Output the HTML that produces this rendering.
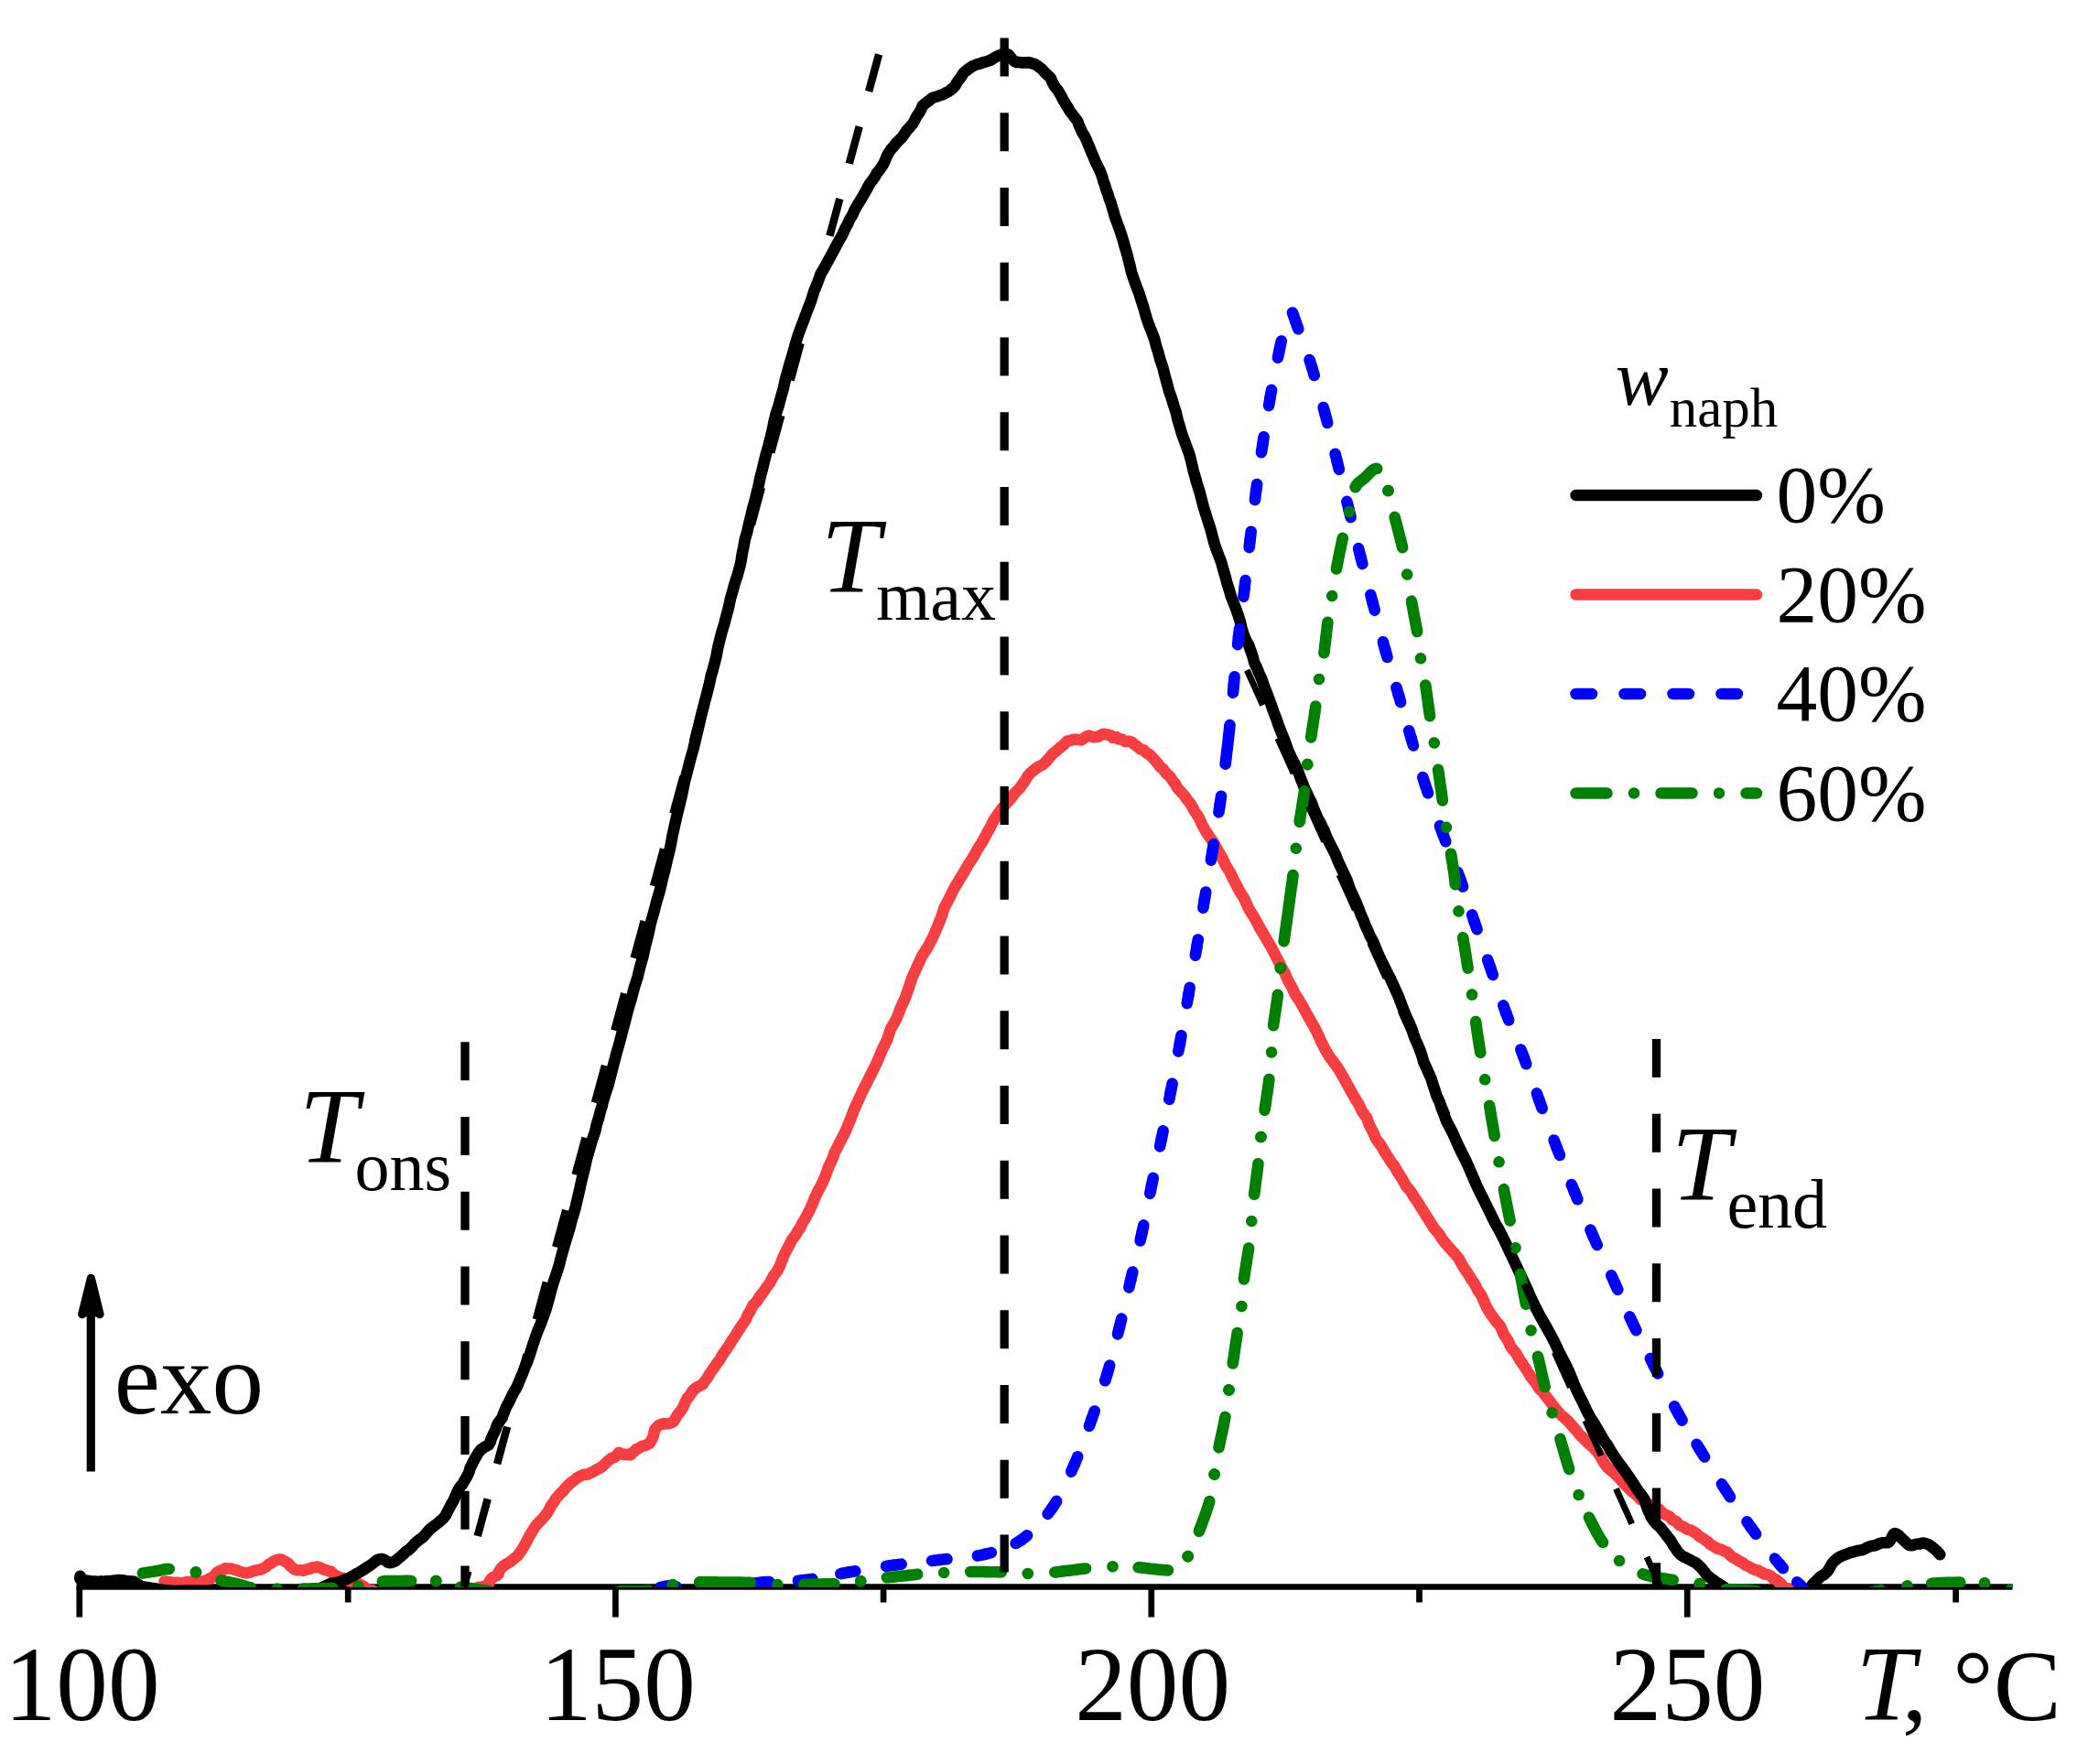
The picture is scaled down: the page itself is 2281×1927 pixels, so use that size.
<!DOCTYPE html>
<html lang="en"><head><meta charset="utf-8"><title>DSC curves</title>
<style>html,body{margin:0;padding:0;background:#fff}svg{display:block}</style></head>
<body>
<svg width="2281" height="1927" viewBox="0 0 2281 1927" role="img" aria-label="DSC curves">
<rect width="2281" height="1927" fill="#fff"/>
<defs><clipPath id="plotclip"><rect x="0" y="0" width="2199" height="1734.1"/></clipPath></defs>
<g stroke="#000" fill="none" stroke-width="6.7">
<path d="M83.5 1733.5 H2198.5"/>
<path d="M86.8 1733.5 V1766.6"/>
<path d="M672.4 1733.5 V1766.6"/>
<path d="M1257.8 1733.5 V1766.6"/>
<path d="M1843.2 1733.5 V1766.6"/>
<path d="M380.2 1733.5 V1750.5"/>
<path d="M965.1 1733.5 V1750.5"/>
<path d="M1550.5 1733.5 V1750.5"/>
<path d="M2136.6 1733.5 V1750.5"/>
</g>
<g clip-path="url(#plotclip)">
<path d="M179.5 1727.5 L182.5 1727.7 L186.0 1728.2 L190.6 1729.1 L194.5 1728.7 L198.8 1730.1 L202.9 1728.4 L206.6 1728.4 L210.3 1727.1 L213.4 1727.9 L216.9 1727.7 L220.7 1727.8 L223.5 1726.8 L226.1 1726.2 L228.0 1724.8 L231.4 1723.5 L233.6 1721.7 L235.7 1719.2 L237.8 1717.0 L240.8 1715.8 L242.4 1715.3 L244.0 1715.0 L245.9 1713.4 L249.4 1713.5 L253.0 1713.5 L256.1 1714.8 L258.8 1715.3 L262.0 1716.7 L265.8 1717.8 L269.5 1718.5 L271.7 1717.9 L274.5 1717.0 L277.5 1716.0 L281.5 1715.1 L284.1 1714.6 L287.3 1713.3 L290.6 1711.6 L293.1 1709.1 L296.6 1707.4 L298.7 1705.6 L302.5 1704.1 L304.3 1703.5 L307.0 1703.6 L309.4 1704.6 L312.6 1706.5 L315.4 1708.1 L316.9 1710.6 L319.1 1712.3 L321.7 1714.4 L324.9 1715.3 L328.0 1715.2 L331.2 1715.9 L334.8 1714.4 L338.7 1713.7 L341.2 1712.3 L344.1 1712.2 L345.9 1711.5 L349.4 1712.3 L352.2 1713.9 L356.4 1715.3 L359.4 1716.2 L362.1 1717.2 L364.2 1719.6 L367.0 1721.2 L371.2 1723.2 L375.2 1724.4 L379.3 1726.4 L382.9 1727.5 L386.4 1728.0 L389.3 1728.7 L392.5 1730.7 L394.9 1731.8 L398.2 1733.5 L399.4 1734.9 L401.5 1736.3 L402.7 1737.0 L406.9 1737.3 L410.5 1739.2 L414.9 1740.0 L419.2 1741.9 L425.0 1742.4 L430.5 1743.6 L436.2 1743.4 L441.5 1745.3 L449.3 1745.2 L457.5 1746.5 L465.6 1745.5 L473.8 1746.4 L482.1 1745.7 L491.6 1746.8 L500.2 1746.0 L505.6 1747.0 L509.2 1745.2 L510.9 1744.8 L513.6 1742.6 L514.8 1742.1 L515.8 1741.6 L516.2 1739.6 L517.6 1739.0 L518.9 1736.1 L520.3 1735.9 L523.1 1733.8 L525.3 1734.4 L526.9 1733.4 L529.0 1733.6 L531.0 1731.9 L533.8 1730.3 L534.9 1727.1 L536.6 1724.8 L539.5 1722.5 L542.5 1721.3 L544.7 1719.6 L544.7 1717.5 L547.0 1713.5 L549.2 1711.4 L552.9 1708.7 L555.2 1707.5 L559.0 1704.8 L562.0 1702.2 L565.2 1699.8 L568.1 1695.8 L571.4 1690.9 L574.4 1685.5 L577.6 1679.4 L580.2 1674.8 L583.7 1669.2 L586.6 1665.1 L590.5 1661.1 L594.0 1657.6 L597.4 1653.1 L600.1 1648.8 L602.2 1644.5 L605.2 1640.5 L607.1 1637.3 L610.1 1634.0 L611.6 1632.1 L615.5 1628.4 L618.0 1625.3 L621.4 1621.7 L623.4 1619.9 L626.7 1617.5 L630.3 1614.5 L634.8 1612.0 L638.4 1610.5 L641.8 1610.7 L645.0 1609.0 L648.3 1607.5 L652.6 1604.9 L655.4 1603.7 L658.3 1601.7 L660.9 1599.0 L664.1 1596.1 L667.8 1592.9 L670.9 1592.2 L673.6 1589.9 L674.9 1588.4 L676.2 1586.7 L677.5 1587.6 L678.5 1587.9 L681.7 1589.0 L684.7 1588.9 L689.2 1589.2 L690.8 1587.1 L693.3 1585.2 L695.0 1583.2 L698.0 1582.0 L701.4 1579.9 L704.5 1579.2 L707.2 1577.9 L709.6 1576.8 L712.1 1572.4 L713.9 1568.5 L714.5 1564.6 L715.4 1561.5 L717.6 1559.1 L720.1 1556.7 L722.8 1555.9 L724.9 1555.0 L727.5 1555.2 L730.6 1555.2 L733.0 1554.3 L735.8 1552.9 L737.9 1549.5 L739.0 1547.2 L740.9 1544.6 L743.2 1542.0 L746.4 1536.9 L748.6 1531.7 L750.6 1527.7 L753.0 1525.2 L754.9 1522.3 L756.9 1519.2 L760.4 1516.0 L764.2 1514.0 L768.0 1511.9 L769.6 1509.3 L772.7 1505.2 L775.1 1500.8 L778.4 1496.2 L781.2 1492.3 L783.2 1489.2 L786.3 1485.5 L788.7 1480.8 L792.5 1475.4 L795.9 1470.5 L799.3 1464.8 L803.1 1459.2 L807.1 1452.7 L810.5 1447.6 L814.7 1441.7 L816.9 1436.3 L820.3 1430.7 L822.5 1426.0 L826.7 1421.7 L829.6 1416.8 L834.3 1410.8 L837.4 1406.3 L840.6 1402.0 L842.4 1398.6 L845.0 1393.7 L848.7 1389.0 L851.8 1383.2 L853.5 1378.8 L855.4 1373.6 L857.6 1368.9 L860.7 1363.1 L863.1 1358.3 L865.2 1354.2 L868.8 1349.5 L871.2 1345.3 L874.3 1341.0 L876.5 1336.0 L880.1 1330.2 L884.0 1322.9 L887.5 1315.2 L890.3 1308.0 L893.7 1301.0 L897.0 1294.9 L900.5 1287.5 L902.7 1281.6 L904.1 1277.6 L905.5 1274.2 L907.2 1270.5 L909.9 1264.8 L911.6 1259.2 L914.9 1253.1 L918.5 1245.8 L923.4 1236.3 L928.3 1224.4 L932.7 1212.9 L938.6 1199.8 L943.6 1189.2 L949.1 1178.5 L954.1 1168.7 L959.2 1157.7 L963.7 1146.8 L969.2 1135.6 L973.1 1123.8 L979.5 1112.5 L983.6 1101.7 L988.9 1090.1 L992.9 1078.7 L996.9 1066.8 L1001.9 1056.0 L1006.9 1044.9 L1013.5 1034.6 L1019.5 1023.1 L1024.0 1012.6 L1028.4 1001.7 L1031.7 991.2 L1037.2 981.0 L1041.9 971.1 L1046.9 962.9 L1052.0 954.4 L1057.1 945.6 L1062.5 937.4 L1067.8 927.9 L1072.9 919.9 L1078.1 910.2 L1082.0 903.3 L1085.8 895.6 L1089.1 890.7 L1094.1 883.9 L1099.3 877.7 L1105.3 871.0 L1109.2 865.5 L1113.6 861.4 L1116.8 856.9 L1120.3 852.1 L1122.5 847.9 L1126.0 844.1 L1129.7 841.1 L1134.0 837.9 L1138.0 835.9 L1140.6 833.9 L1143.8 830.8 L1146.7 827.3 L1149.9 823.6 L1153.9 820.2 L1158.3 816.4 L1162.2 813.4 L1164.4 810.8 L1166.0 809.5 L1168.3 809.1 L1172.0 808.1 L1175.3 807.7 L1178.5 808.1 L1181.0 808.5 L1183.6 806.8 L1186.9 804.5 L1189.6 803.6 L1193.2 804.9 L1196.6 805.1 L1199.7 804.8 L1203.0 802.7 L1206.8 801.7 L1209.6 802.5 L1213.5 803.4 L1215.5 806.0 L1219.6 805.0 L1221.5 807.4 L1225.5 807.5 L1229.3 810.1 L1232.8 809.8 L1236.0 810.4 L1238.6 812.6 L1242.3 815.3 L1245.4 818.3 L1249.2 819.1 L1252.3 822.4 L1255.9 824.3 L1258.4 826.9 L1261.2 830.0 L1264.1 833.2 L1267.4 837.7 L1271.0 840.4 L1274.0 844.9 L1278.3 848.5 L1281.3 853.2 L1284.1 856.6 L1286.4 861.2 L1289.8 864.7 L1294.0 869.3 L1296.8 873.4 L1301.0 878.7 L1304.7 885.7 L1309.7 893.0 L1313.0 900.6 L1316.4 906.6 L1320.8 913.5 L1326.2 921.2 L1330.8 929.7 L1335.3 937.4 L1338.7 944.9 L1343.9 953.3 L1348.3 962.4 L1353.6 972.6 L1359.3 981.8 L1364.1 992.4 L1370.3 1002.6 L1376.5 1014.0 L1382.7 1024.4 L1389.0 1035.2 L1394.1 1045.1 L1399.3 1055.2 L1404.0 1063.8 L1407.2 1071.4 L1411.4 1078.6 L1414.9 1086.3 L1419.4 1093.1 L1423.5 1100.0 L1426.9 1106.4 L1431.0 1113.8 L1435.6 1121.6 L1439.7 1129.8 L1443.9 1139.3 L1448.3 1147.6 L1452.9 1155.1 L1457.9 1161.6 L1462.4 1168.1 L1467.2 1176.2 L1471.3 1183.8 L1475.8 1191.8 L1479.6 1198.7 L1484.4 1206.3 L1488.1 1214.3 L1493.2 1221.3 L1495.6 1228.3 L1499.4 1235.7 L1503.0 1243.7 L1509.0 1252.0 L1514.1 1260.7 L1518.9 1268.2 L1523.7 1274.6 L1527.3 1281.1 L1532.0 1288.2 L1536.1 1295.6 L1541.1 1301.3 L1544.7 1307.5 L1548.9 1313.4 L1553.9 1321.5 L1558.3 1328.6 L1563.1 1336.2 L1566.8 1342.0 L1572.1 1348.2 L1575.8 1354.1 L1580.8 1360.1 L1585.7 1365.7 L1590.1 1370.6 L1593.9 1375.3 L1596.2 1379.8 L1599.3 1385.2 L1603.5 1390.9 L1607.0 1397.0 L1611.2 1402.9 L1614.3 1409.3 L1618.7 1415.8 L1621.5 1422.4 L1624.4 1428.8 L1628.4 1435.3 L1633.3 1442.1 L1639.3 1449.3 L1642.5 1457.2 L1647.2 1464.3 L1650.6 1471.5 L1656.3 1478.5 L1660.1 1485.3 L1664.0 1490.9 L1667.7 1496.5 L1672.4 1504.2 L1677.8 1510.7 L1681.3 1516.8 L1685.2 1520.4 L1689.6 1526.3 L1695.3 1533.7 L1700.5 1540.1 L1704.6 1545.1 L1708.3 1548.1 L1713.1 1552.5 L1716.6 1556.5 L1720.8 1561.3 L1724.9 1566.4 L1730.5 1572.0 L1735.9 1577.3 L1740.5 1581.4 L1745.0 1586.0 L1748.5 1591.4 L1752.4 1598.3 L1756.3 1603.4 L1761.2 1607.5 L1766.4 1611.9 L1770.8 1616.7 L1774.9 1621.7 L1778.1 1624.7 L1782.7 1629.4 L1787.4 1632.8 L1792.2 1637.9 L1797.7 1640.8 L1803.4 1644.4 L1811.5 1648.0 L1816.9 1653.3 L1823.8 1656.7 L1826.7 1660.1 L1831.3 1662.0 L1834.2 1665.8 L1839.6 1668.2 L1843.0 1670.6 L1846.6 1671.4 L1849.6 1673.0 L1853.1 1675.1 L1856.6 1678.6 L1860.5 1680.7 L1863.4 1682.8 L1866.1 1684.7 L1868.0 1686.9 L1872.3 1689.4 L1876.2 1691.7 L1880.7 1692.9 L1883.8 1694.6 L1887.0 1695.7 L1889.8 1698.8 L1893.2 1701.5 L1897.3 1703.5 L1900.3 1705.7 L1903.3 1706.9 L1906.7 1709.6 L1911.0 1711.7 L1914.7 1713.7 L1917.6 1715.0 L1920.6 1715.4 L1922.5 1717.0 L1925.6 1718.2 L1927.5 1719.6 L1931.2 1720.2 L1933.6 1721.1 L1935.4 1722.5 L1936.6 1723.5 L1936.8 1724.3 L1939.1 1724.8 L1940.9 1726.1 L1943.2 1728.3 L1944.0 1729.7 L1945.2 1729.5 L1945.7 1730.1 L1947.0 1732.0 L1948.6 1734.1 L1951.5 1735.3 L1954.1 1735.4 L1956.0 1737.1 L1957.2 1738.7 L1958.1 1740.3 L1958.8 1740.6" fill="none" stroke="#f73e40" stroke-width="12.6" stroke-linecap="round" stroke-linejoin="round"/>
<path d="M87.6 1721.8 L87.9 1722.2 L87.3 1723.4 L87.6 1725.1 L88.6 1725.9 L90.1 1726.5 L91.7 1726.2 L94.1 1726.6 L97.2 1726.9 L100.7 1727.6 L104.1 1727.6 L107.1 1727.9 L110.5 1727.4 L113.0 1727.7 L115.4 1727.4 L117.6 1727.3 L120.1 1727.0 L122.1 1727.1 L124.1 1726.5 L126.7 1726.5 L129.9 1726.0 L132.8 1726.4 L135.6 1726.5 L138.2 1727.2 L140.3 1727.2 L142.1 1727.5 L143.7 1727.5 L145.3 1727.6 L146.9 1728.1 L148.1 1728.9 L149.6 1730.3 L150.5 1730.7 L152.4 1731.8 L153.4 1732.4 L155.7 1733.4 L158.4 1733.7 L162.5 1734.3 L166.9 1735.1 L170.8 1735.6 L176.1 1736.6 L182.3 1737.3 L190.4 1738.0 L200.1 1737.9 L213.9 1737.5 L230.8 1737.7 L249.8 1738.1 L268.1 1738.0 L285.6 1738.2 L299.9 1737.9 L311.1 1738.1 L320.2 1737.6 L327.4 1737.1 L333.8 1736.6 L339.6 1736.4 L345.4 1736.1 L349.4 1735.2 L352.5 1733.9 L354.1 1733.0 L356.9 1731.9 L359.0 1730.7 L362.0 1729.7 L365.1 1729.1 L368.3 1728.6 L371.6 1727.9 L374.3 1726.8 L377.0 1725.6 L379.9 1724.4 L382.7 1723.1 L386.0 1721.4 L388.8 1719.5 L392.7 1717.6 L395.7 1715.6 L398.6 1713.8 L401.2 1711.9 L404.4 1710.1 L407.6 1707.6 L410.0 1705.7 L412.4 1704.0 L414.7 1703.3 L417.4 1703.1 L419.8 1703.9 L422.3 1705.4 L423.6 1706.6 L425.6 1707.1 L427.6 1707.0 L430.2 1706.1 L432.5 1704.9 L434.1 1703.3 L435.5 1702.1 L437.2 1700.9 L439.3 1698.9 L441.7 1696.9 L443.6 1694.7 L446.0 1693.4 L448.2 1691.5 L450.7 1689.1 L453.1 1686.2 L455.9 1683.8 L458.8 1681.5 L462.1 1679.1 L464.9 1676.0 L467.3 1673.2 L469.3 1670.7 L472.1 1668.6 L475.4 1666.0 L478.8 1663.5 L481.7 1660.9 L484.4 1658.5 L486.7 1655.5 L488.6 1651.8 L490.6 1647.9 L493.2 1643.1 L495.7 1638.6 L497.7 1634.1 L499.2 1630.4 L500.9 1627.1 L503.0 1623.8 L505.0 1621.7 L506.5 1619.0 L508.0 1616.5 L509.8 1613.5 L511.3 1610.3 L512.6 1607.6 L513.4 1604.1 L515.0 1601.0 L516.9 1597.1 L518.4 1594.3 L519.9 1591.5 L521.3 1589.2 L522.7 1586.8 L524.0 1585.3 L525.3 1583.7 L527.0 1582.5 L528.6 1581.3 L529.8 1580.4 L531.0 1580.0 L532.4 1579.1 L533.7 1578.6 L534.8 1576.6 L536.0 1574.7 L536.6 1571.6 L538.2 1568.2 L539.9 1564.7 L541.6 1561.3 L542.5 1558.0 L544.1 1554.6 L546.4 1551.6 L548.7 1548.7 L549.6 1545.6 L551.2 1541.6 L552.9 1537.3 L555.8 1531.9 L558.3 1526.7 L561.4 1520.7 L564.9 1514.7 L567.8 1507.5 L570.8 1500.6 L573.3 1493.8 L576.3 1486.9 L579.0 1479.2 L581.5 1471.0 L584.3 1462.7 L587.1 1454.8 L590.2 1447.5 L593.4 1438.9 L596.6 1429.9 L599.3 1420.4 L601.8 1410.5 L604.6 1400.9 L608.0 1391.0 L610.7 1382.4 L613.1 1372.7 L615.9 1362.9 L619.0 1352.4 L622.3 1341.9 L625.0 1331.3 L628.4 1320.2 L630.9 1309.4 L633.5 1298.2 L635.8 1287.7 L638.6 1277.0 L640.8 1266.5 L643.9 1256.0 L646.7 1245.8 L650.0 1236.6 L651.9 1228.0 L654.3 1220.4 L655.8 1214.1 L657.6 1208.7 L658.6 1203.9 L660.2 1198.6 L661.9 1192.9 L664.5 1185.6 L667.0 1175.5 L669.9 1164.3 L673.1 1152.0 L676.6 1139.6 L679.9 1127.0 L683.2 1114.5 L686.2 1102.8 L689.8 1090.7 L692.7 1079.4 L696.4 1067.8 L699.3 1056.1 L702.6 1044.2 L705.2 1032.5 L708.2 1020.9 L710.7 1009.0 L714.2 996.8 L717.3 984.7 L720.9 972.6 L723.5 961.1 L726.6 949.1 L729.3 937.5 L732.3 925.2 L734.5 913.4 L737.1 901.4 L739.7 890.0 L742.6 878.3 L745.3 866.8 L747.7 854.6 L750.9 842.5 L754.0 830.4 L757.4 818.4 L760.3 806.0 L763.4 793.3 L766.1 781.3 L769.0 770.1 L771.5 760.5 L773.6 752.6 L775.0 746.7 L776.0 742.0 L776.8 738.0 L778.5 732.8 L780.3 725.8 L782.4 717.6 L783.9 709.0 L786.0 700.2 L788.5 690.4 L791.4 681.0 L793.8 671.6 L796.1 663.2 L797.9 654.3 L800.3 646.1 L802.5 637.7 L805.3 629.7 L807.5 621.7 L809.5 613.5 L810.7 605.2 L812.4 597.2 L813.9 589.0 L816.2 581.1 L818.1 572.5 L820.2 564.0 L822.3 555.3 L824.5 547.5 L826.5 539.3 L828.6 531.1 L830.4 522.0 L832.6 513.6 L834.7 504.8 L836.8 496.4 L839.3 487.7 L841.5 479.2 L843.7 470.1 L845.5 461.1 L847.8 451.7 L850.7 443.0 L853.1 433.8 L855.7 425.0 L857.7 415.7 L860.2 406.5 L862.8 396.8 L865.9 387.1 L868.6 377.2 L871.5 367.3 L875.0 357.6 L878.6 348.2 L882.1 338.6 L886.0 328.7 L889.4 317.8 L893.2 308.6 L896.5 299.4 L901.0 291.7 L905.3 283.7 L909.4 276.3 L913.0 269.5 L916.5 262.9 L920.4 256.3 L923.0 250.1 L926.0 244.7 L928.2 239.7 L931.0 235.3 L933.0 230.8 L935.1 226.7 L937.8 222.3 L940.6 217.7 L943.0 213.6 L945.1 210.0 L947.0 206.5 L948.8 203.0 L950.9 199.5 L953.0 197.0 L954.9 194.2 L956.5 192.0 L957.6 189.5 L960.0 186.8 L962.2 183.7 L965.1 179.3 L966.9 175.2 L969.1 170.0 L971.3 166.2 L973.6 162.8 L976.1 160.2 L978.0 157.6 L980.5 154.9 L982.9 152.5 L985.2 150.3 L986.8 148.1 L988.5 145.6 L990.5 142.5 L993.0 139.9 L995.2 137.2 L997.5 134.7 L998.8 132.1 L1000.1 129.6 L1001.2 127.4 L1002.6 125.3 L1004.2 123.2 L1005.5 120.8 L1006.8 118.0 L1007.9 115.3 L1010.2 113.6 L1012.9 111.4 L1015.8 109.3 L1018.3 107.1 L1020.8 106.2 L1023.7 105.5 L1026.6 104.3 L1030.0 103.2 L1032.7 101.7 L1035.2 100.7 L1037.5 99.1 L1039.4 97.3 L1041.3 96.1 L1042.5 94.6 L1043.4 93.7 L1044.4 91.8 L1045.7 89.6 L1047.3 87.4 L1048.6 85.9 L1049.9 84.1 L1051.1 82.3 L1052.5 79.9 L1053.5 78.9 L1055.2 77.4 L1056.4 76.7 L1057.8 75.3 L1059.9 74.1 L1062.3 72.3 L1065.5 71.0 L1067.4 70.1 L1069.7 69.7 L1071.8 69.0 L1074.5 68.1 L1077.7 67.2 L1080.7 66.3 L1083.4 65.0 L1086.2 63.1 L1089.2 61.6 L1091.9 60.4 L1094.1 59.4 L1096.9 58.8 L1099.5 58.9 L1101.8 59.9 L1103.5 61.9 L1105.6 64.5 L1108.0 66.8 L1110.3 68.1 L1112.5 67.9 L1114.9 68.4 L1117.6 68.3 L1120.7 68.6 L1123.0 68.1 L1124.9 68.5 L1127.0 69.0 L1128.7 69.7 L1130.6 70.0 L1131.9 71.0 L1133.9 72.3 L1135.5 73.5 L1137.7 75.1 L1139.3 76.8 L1141.7 79.4 L1143.5 81.2 L1145.9 83.4 L1147.8 85.2 L1148.7 87.5 L1149.8 90.1 L1151.5 93.3 L1153.6 96.2 L1155.8 98.8 L1157.5 101.8 L1159.5 105.0 L1161.0 108.4 L1162.6 111.1 L1164.3 114.0 L1166.4 117.1 L1168.5 121.0 L1171.3 124.6 L1174.2 128.6 L1177.2 132.4 L1178.7 136.8 L1180.5 140.6 L1182.1 144.4 L1184.5 148.1 L1186.9 153.0 L1188.7 157.5 L1190.6 161.8 L1192.2 166.2 L1194.4 170.9 L1196.5 176.2 L1198.7 180.6 L1200.9 185.0 L1202.6 189.0 L1204.2 193.2 L1205.4 197.9 L1207.1 202.3 L1208.4 207.2 L1210.2 211.7 L1211.6 216.6 L1213.6 221.5 L1214.8 226.1 L1216.5 231.4 L1217.8 236.4 L1219.7 241.7 L1221.6 246.7 L1223.4 251.7 L1225.4 257.6 L1227.2 263.4 L1228.8 269.8 L1230.9 276.3 L1232.5 282.8 L1234.4 290.1 L1235.9 296.9 L1238.5 304.7 L1241.2 312.2 L1244.4 320.5 L1246.9 328.5 L1249.5 336.5 L1251.5 344.0 L1253.5 350.4 L1255.8 356.7 L1258.3 362.9 L1261.1 370.1 L1262.9 377.3 L1265.3 384.9 L1267.5 393.4 L1270.5 401.9 L1272.7 410.9 L1274.8 418.5 L1277.0 426.9 L1279.9 435.1 L1282.4 443.4 L1284.9 451.0 L1286.5 458.4 L1288.9 466.1 L1291.1 474.1 L1293.9 481.4 L1296.8 489.3 L1299.5 496.9 L1301.7 505.5 L1303.6 513.9 L1305.9 522.0 L1308.2 530.2 L1310.7 538.0 L1312.8 546.2 L1314.8 553.8 L1317.3 561.8 L1319.7 569.5 L1322.5 578.0 L1324.5 585.8 L1326.6 593.8 L1328.9 600.5 L1331.7 607.8 L1334.3 614.7 L1336.3 622.1 L1338.5 629.4 L1340.5 637.2 L1342.9 644.5 L1345.0 652.0 L1347.7 658.8 L1350.3 665.6 L1352.7 672.2 L1354.8 678.9 L1356.5 686.5 L1358.7 693.2 L1361.2 699.7 L1364.1 704.6 L1366.4 711.0 L1368.4 716.7 L1370.2 723.7 L1373.0 729.4 L1375.6 735.9 L1378.4 742.0 L1380.8 749.2 L1383.7 756.4 L1386.5 763.9 L1388.9 770.7 L1391.4 777.8 L1394.2 784.8 L1396.6 791.9 L1399.1 798.5 L1401.7 804.6 L1404.0 810.7 L1406.2 817.0 L1408.6 823.0 L1411.5 829.1 L1414.3 834.3 L1416.6 839.6 L1418.8 844.6 L1420.7 849.8 L1422.7 854.8 L1424.7 860.1 L1427.5 866.0 L1430.1 871.7 L1433.1 877.6 L1435.0 883.1 L1437.6 889.2 L1439.8 894.4 L1442.4 898.8 L1444.4 903.2 L1446.7 907.5 L1448.5 912.8 L1451.1 918.3 L1453.6 923.3 L1456.3 928.3 L1458.6 932.8 L1460.8 938.6 L1463.3 944.2 L1466.1 950.1 L1468.7 955.7 L1471.4 961.2 L1473.3 967.0 L1475.2 972.1 L1477.6 977.4 L1480.2 982.9 L1482.7 988.7 L1485.1 994.8 L1487.0 1000.0 L1489.7 1005.7 L1491.5 1010.9 L1494.2 1016.6 L1496.5 1022.0 L1499.5 1027.5 L1502.1 1033.5 L1504.3 1039.1 L1506.8 1044.8 L1509.0 1049.2 L1511.4 1054.0 L1513.7 1058.9 L1516.2 1064.1 L1518.6 1068.3 L1520.7 1073.0 L1522.8 1077.5 L1525.1 1082.8 L1527.5 1087.9 L1529.8 1094.0 L1532.3 1100.5 L1534.4 1106.0 L1537.0 1112.2 L1539.7 1117.8 L1542.4 1124.4 L1544.2 1130.1 L1546.4 1136.0 L1549.0 1141.7 L1551.6 1148.2 L1553.6 1154.0 L1555.2 1160.0 L1557.9 1165.7 L1560.5 1171.7 L1563.3 1177.8 L1565.1 1183.8 L1567.4 1190.6 L1569.5 1197.2 L1572.6 1203.7 L1574.7 1210.4 L1577.4 1217.1 L1579.9 1224.2 L1583.4 1230.8 L1586.9 1237.5 L1590.1 1244.7 L1593.5 1252.2 L1597.0 1259.8 L1601.0 1267.3 L1604.5 1275.1 L1608.2 1283.7 L1612.1 1292.8 L1616.5 1302.2 L1620.8 1310.7 L1624.8 1318.7 L1628.0 1325.3 L1631.1 1331.6 L1634.0 1337.3 L1637.4 1343.2 L1640.7 1349.7 L1644.4 1357.0 L1648.7 1366.3 L1653.5 1376.4 L1658.5 1387.2 L1663.4 1397.6 L1668.4 1408.5 L1673.1 1419.2 L1677.9 1429.0 L1683.0 1438.8 L1688.2 1447.7 L1693.6 1457.4 L1698.2 1466.2 L1702.7 1475.8 L1707.0 1484.3 L1711.7 1493.2 L1715.5 1501.8 L1719.1 1510.9 L1722.5 1518.9 L1726.2 1526.4 L1729.9 1533.5 L1733.4 1541.3 L1737.3 1548.5 L1741.4 1554.7 L1745.2 1561.2 L1749.0 1567.7 L1752.7 1574.2 L1756.8 1579.7 L1760.1 1585.7 L1763.7 1591.3 L1767.9 1597.4 L1772.0 1602.7 L1776.2 1608.5 L1780.2 1614.4 L1784.5 1620.8 L1788.7 1627.3 L1792.6 1632.3 L1795.8 1636.8 L1797.5 1640.7 L1798.5 1644.6 L1799.7 1647.9 L1800.9 1650.8 L1802.6 1654.0 L1803.7 1657.1 L1806.1 1660.6 L1808.5 1663.8 L1811.9 1667.0 L1814.8 1669.8 L1817.1 1672.8 L1819.6 1675.9 L1822.3 1679.5 L1825.3 1683.2 L1827.8 1687.7 L1830.4 1691.2 L1832.8 1695.2 L1835.4 1697.9 L1838.6 1700.3 L1841.4 1701.4 L1844.1 1703.0 L1846.3 1703.9 L1848.9 1705.6 L1852.0 1706.8 L1854.7 1709.1 L1857.4 1711.6 L1859.8 1714.2 L1861.9 1717.0 L1863.8 1719.4 L1866.2 1722.0 L1868.7 1724.0 L1871.5 1725.8 L1873.8 1727.7 L1876.3 1729.3 L1878.5 1730.8 L1881.0 1732.1 L1883.1 1733.6 L1885.4 1735.6 L1887.6 1736.7 L1889.6 1738.1 L1891.1 1739.0 L1892.0 1740.1" fill="none" stroke="#000" stroke-width="12.6" stroke-linecap="round" stroke-linejoin="round"/>
<path d="M1970.2 1744.1 L1970.6 1743.1 L1971.6 1741.8 L1972.3 1740.2 L1973.9 1738.7 L1975.4 1737.1 L1976.8 1735.7 L1977.9 1734.0 L1979.3 1732.1 L1981.0 1729.9 L1983.0 1728.0 L1984.9 1726.1 L1986.6 1724.5 L1988.3 1722.8 L1989.6 1721.9 L1991.0 1720.9 L1992.5 1720.2 L1994.3 1718.6 L1996.1 1716.8 L1997.7 1714.8 L1998.9 1712.6 L2000.3 1710.1 L2001.7 1707.5 L2003.8 1705.3 L2005.8 1703.6 L2007.8 1701.9 L2009.8 1700.8 L2012.1 1699.7 L2014.7 1698.7 L2017.4 1697.7 L2020.3 1696.6 L2022.7 1695.8 L2024.7 1695.3 L2026.7 1694.6 L2029.4 1694.0 L2031.8 1693.6 L2034.4 1693.3 L2036.6 1692.3 L2039.4 1690.7 L2042.3 1689.4 L2045.5 1688.7 L2048.3 1688.2 L2051.0 1687.3 L2052.9 1686.2 L2055.2 1685.5 L2057.3 1685.3 L2059.7 1685.3 L2061.7 1685.3 L2063.4 1684.6 L2064.6 1683.1 L2065.9 1681.1 L2066.9 1679.0 L2067.9 1677.1 L2068.6 1675.7 L2070.0 1675.1 L2072.0 1675.8 L2074.2 1677.4 L2076.4 1679.5 L2078.5 1681.6 L2080.9 1683.6 L2082.7 1685.7 L2084.4 1686.9 L2085.3 1687.8 L2086.6 1687.8 L2087.3 1688.2 L2088.4 1688.3 L2089.7 1688.1 L2091.3 1687.3 L2093.2 1686.9 L2095.0 1686.6 L2097.4 1686.5 L2099.6 1685.8 L2101.5 1685.6 L2103.1 1686.0 L2104.9 1686.5 L2106.7 1687.2 L2108.2 1688.1 L2109.6 1689.2 L2111.0 1690.3 L2112.5 1691.5 L2114.3 1693.0 L2116.2 1694.6 L2117.3 1696.1 L2118.7 1697.4 L2119.3 1698.2" fill="none" stroke="#000" stroke-width="12.6" stroke-linecap="round" stroke-linejoin="round"/>
<g fill="none" stroke="#0000ff" stroke-width="12.6" stroke-linecap="round" stroke-linejoin="round">
<path d="M690.0 1740.0 L691.7 1739.8 L694.0 1739.5 L696.8 1739.2 L699.9 1738.8 L703.1 1738.4 L706.3 1737.9 L709.3 1737.5 L712.0 1737.0 L714.4 1736.5 L716.6 1735.8 L718.6 1735.1 L720.7 1734.3 L722.8 1733.7 L725.0 1733.1 L727.3 1732.7 L730.0 1732.5" stroke-dasharray="17.5 35.5" stroke-dashoffset="20.91"/>
<path d="M730.0 1732.5 L733.0 1732.6 L736.2 1732.9 L739.6 1733.3 L743.1 1733.9 L746.7 1734.5 L750.2 1735.1 L753.7 1735.6 L757.0 1736.0 L760.1 1736.3 L763.2 1736.5 L766.2 1736.8 L769.1 1737.0 L772.1 1737.1 L775.0 1737.2 L778.0 1737.1 L781.0 1737.0 L784.1 1736.7 L787.1 1736.4 L790.2 1735.9 L793.3 1735.3 L796.5 1734.8 L799.6 1734.2 L802.8 1733.6 L806.0 1733.0 L809.1 1732.4 L812.1 1731.9 L815.0 1731.3 L818.0 1730.7 L821.1 1730.1 L824.6 1729.5 L828.4 1729.0 L832.7 1728.5" stroke-dasharray="8.56 34.74 17.12 34.74 8.56 3000" stroke-dashoffset="0.00"/>
<path d="M832.7 1728.5 L837.6 1728.1 L843.0 1727.9 L848.8 1727.7 L854.9 1727.5 L861.2 1727.3 L867.4 1727.0 L873.6 1726.6 L879.6 1726.0" stroke-dasharray="7.76 31.47 7.76 3000" stroke-dashoffset="0.00"/>
<path d="M879.6 1726.0 L885.4 1725.2 L891.1 1724.3 L896.9 1723.3 L902.6 1722.2 L908.3 1721.0 L914.1 1719.9 L920.0 1718.8 L926.0 1717.7" stroke-dasharray="7.78 31.58 7.78 3000" stroke-dashoffset="0.00"/>
<path d="M926.0 1717.7 L932.1 1716.7 L938.3 1715.6 L944.6 1714.6 L951.0 1713.5 L957.4 1712.5 L963.7 1711.5 L970.1 1710.6 L976.4 1709.7" stroke-dasharray="8.43 34.18 8.43 3000" stroke-dashoffset="0.00"/>
<path d="M976.4 1709.7 L982.7 1708.9 L988.9 1708.1 L995.2 1707.4 L1001.4 1706.7 L1007.6 1706.1 L1013.9 1705.4 L1020.1 1704.7 L1026.3 1704.0" stroke-dasharray="8.29 33.64 8.29 3000" stroke-dashoffset="0.00"/>
<path d="M1026.3 1704.0 L1032.6 1703.3 L1039.0 1702.7 L1045.4 1702.2 L1051.8 1701.6 L1058.1 1700.9 L1064.3 1700.1 L1070.3 1699.1 L1076.0 1697.9" stroke-dasharray="8.27 33.57 8.27 3000" stroke-dashoffset="0.00"/>
<path d="M1076.0 1697.9 L1081.5 1696.5 L1086.8 1695.1 L1091.9 1693.6 L1096.8 1691.9 L1101.7 1690.0 L1106.4 1687.8 L1111.1 1685.2 L1115.7 1682.3" stroke-dasharray="7.09 28.74 7.09 3000" stroke-dashoffset="0.00"/>
<path d="M1115.7 1682.3 L1120.3 1678.9 L1124.8 1675.2 L1129.2 1671.2 L1133.5 1666.9 L1137.7 1662.3 L1141.8 1657.5 L1145.7 1652.5 L1149.4 1647.4" stroke-dasharray="8.05 32.66 8.05 3000" stroke-dashoffset="0.00"/>
<path d="M1149.4 1647.4 L1152.9 1642.0 L1156.3 1636.4 L1159.5 1630.5 L1162.5 1624.4 L1165.5 1618.2 L1168.3 1611.9 L1171.1 1605.7 L1173.8 1599.5" stroke-dasharray="8.89 36.06 8.89 3000" stroke-dashoffset="0.00"/>
<path d="M1173.8 1599.5 L1176.4 1593.4 L1179.0 1587.2 L1181.4 1580.9 L1183.8 1574.7 L1186.1 1568.4 L1188.3 1562.1 L1190.6 1555.8 L1192.8 1549.6" stroke-dasharray="8.82 35.77 8.82 3000" stroke-dashoffset="0.00"/>
<path d="M1192.8 1549.6 L1195.0 1543.4 L1197.3 1537.2 L1199.5 1531.0 L1201.7 1524.9 L1203.8 1518.7 L1205.9 1512.5 L1207.9 1506.3 L1209.8 1500.0" stroke-dasharray="8.66 35.12 8.66 3000" stroke-dashoffset="0.00"/>
<path d="M1209.8 1500.0 L1211.6 1493.7 L1213.4 1487.4 L1215.1 1481.0 L1216.7 1474.6 L1218.4 1468.2 L1219.9 1461.8 L1221.5 1455.4 L1223.1 1449.0" stroke-dasharray="8.7 35.31 8.7 3000" stroke-dashoffset="0.00"/>
<path d="M1223.1 1449.0 L1224.7 1442.6 L1226.2 1436.2 L1227.8 1429.8 L1229.3 1423.5 L1230.8 1417.1 L1232.3 1410.7 L1233.8 1404.3 L1235.3 1397.9" stroke-dasharray="8.67 35.19 8.67 3000" stroke-dashoffset="0.00"/>
<path d="M1235.3 1397.9 L1236.8 1391.5 L1238.4 1385.2 L1239.9 1378.8 L1241.5 1372.4 L1243.0 1366.1 L1244.6 1359.7 L1246.1 1353.3 L1247.5 1346.9" stroke-dasharray="8.66 35.12 8.66 3000" stroke-dashoffset="0.00"/>
<path d="M1247.5 1346.9 L1248.9 1340.5 L1250.2 1334.0 L1251.5 1327.6 L1252.8 1321.1 L1254.1 1314.7 L1255.4 1308.2 L1256.7 1301.7 L1258.0 1295.3" stroke-dasharray="8.69 35.27 8.69 3000" stroke-dashoffset="0.00"/>
<path d="M1258.0 1295.3 L1259.3 1288.9 L1260.7 1282.4 L1262.1 1276.0 L1263.5 1269.5 L1264.9 1263.1 L1266.2 1256.7 L1267.6 1250.2 L1268.9 1243.8" stroke-dasharray="8.69 35.26 8.69 3000" stroke-dashoffset="0.00"/>
<path d="M1268.9 1243.8 L1270.2 1237.4 L1271.5 1231.0 L1272.7 1224.6 L1274.0 1218.2 L1275.2 1211.8 L1276.4 1205.3 L1277.7 1198.9 L1278.9 1192.4" stroke-dasharray="8.65 35.07 8.65 3000" stroke-dashoffset="0.00"/>
<path d="M1278.9 1192.4 L1280.2 1185.9 L1281.4 1179.4 L1282.7 1172.8 L1283.9 1166.2 L1285.2 1159.6 L1286.4 1153.0 L1287.7 1146.5 L1288.9 1139.9" stroke-dasharray="8.82 35.8 8.82 3000" stroke-dashoffset="0.00"/>
<path d="M1288.9 1139.9 L1290.1 1133.3 L1291.3 1126.8 L1292.4 1120.2 L1293.6 1113.7 L1294.8 1107.2 L1295.9 1100.6 L1297.1 1094.1 L1298.2 1087.5" stroke-dasharray="8.79 35.65 8.79 3000" stroke-dashoffset="0.00"/>
<path d="M1298.2 1087.5 L1299.4 1080.9 L1300.5 1074.4 L1301.7 1067.8 L1302.8 1061.2 L1303.9 1054.6 L1305.1 1048.1 L1306.2 1041.5 L1307.3 1035.0" stroke-dasharray="8.8 35.69 8.8 3000" stroke-dashoffset="0.00"/>
<path d="M1307.3 1035.0 L1308.4 1028.5 L1309.5 1022.0 L1310.5 1015.5 L1311.6 1009.0 L1312.6 1002.6 L1313.7 996.1 L1314.7 989.6 L1315.8 983.1" stroke-dasharray="8.68 35.23 8.68 3000" stroke-dashoffset="0.00"/>
<path d="M1315.8 983.1 L1316.9 976.6 L1317.9 970.1 L1319.0 963.6 L1320.0 957.1 L1321.1 950.6 L1322.2 944.1 L1323.2 937.5 L1324.3 931.0" stroke-dasharray="8.72 35.36 8.72 3000" stroke-dashoffset="0.00"/>
<path d="M1324.3 931.0 L1325.4 924.5 L1326.4 918.2 L1327.5 911.9 L1328.5 905.6 L1329.6 899.2 L1330.7 892.6 L1331.7 885.7 L1332.8 878.5" stroke-dasharray="8.78 35.62 8.78 3000" stroke-dashoffset="0.00"/>
<path d="M1332.8 878.5 L1333.9 870.9 L1335.0 862.9 L1336.1 854.7 L1337.2 846.2 L1338.3 837.7 L1339.3 829.2 L1340.3 820.8 L1341.3 812.5 L1342.2 804.3 L1343.1 796.0 L1343.9 787.7 L1344.8 779.4 L1345.5 771.2 L1346.3 763.2 L1347.1 755.5 L1347.8 748.0" stroke-dasharray="8.75 35.5 42.87 35.5 8.75 3000" stroke-dashoffset="0.00"/>
<path d="M1347.8 748.0 L1348.5 740.9 L1349.2 734.0 L1349.8 727.4 L1350.4 721.0 L1351.0 714.7 L1351.6 708.3 L1352.3 702.0 L1353.0 695.5" stroke-dasharray="8.71 35.34 8.71 3000" stroke-dashoffset="0.00"/>
<path d="M1353.0 695.5 L1353.8 688.9 L1354.5 682.4 L1355.4 675.9 L1356.2 669.3 L1357.0 662.8 L1357.9 656.2 L1358.7 649.6 L1359.5 643.0" stroke-dasharray="8.73 35.43 8.73 3000" stroke-dashoffset="0.00"/>
<path d="M1359.5 643.0 L1360.3 636.3 L1361.1 629.6 L1361.8 622.8 L1362.6 616.0 L1363.4 609.3 L1364.2 602.5 L1364.9 595.8 L1365.7 589.2" stroke-dasharray="8.94 36.27 8.94 3000" stroke-dashoffset="0.00"/>
<path d="M1365.7 589.2 L1366.5 582.6 L1367.2 576.2 L1368.0 569.7 L1368.8 563.3 L1369.6 556.9 L1370.4 550.5 L1371.2 544.0 L1372.0 537.6" stroke-dasharray="8.58 34.82 8.58 3000" stroke-dashoffset="0.00"/>
<path d="M1372.0 537.6 L1372.9 531.1 L1373.7 524.6 L1374.6 518.1 L1375.5 511.6 L1376.5 505.1 L1377.4 498.6 L1378.3 492.1 L1379.3 485.7" stroke-dasharray="8.65 35.11 8.65 3000" stroke-dashoffset="0.00"/>
<path d="M1379.3 485.7 L1380.3 479.3 L1381.2 472.9 L1382.2 466.6 L1383.2 460.2 L1384.2 453.9 L1385.3 447.5 L1386.4 441.1 L1387.5 434.7" stroke-dasharray="8.53 34.6 8.53 3000" stroke-dashoffset="0.00"/>
<path d="M1387.5 434.7 L1388.7 428.0 L1390.0 421.0 L1391.4 413.9 L1392.8 406.8 L1394.1 400.0 L1395.4 393.4 L1396.6 387.5 L1397.7 382.2" stroke-dasharray="8.83 35.82 8.83 3000" stroke-dashoffset="0.00"/>
<path d="M1397.7 382.2 L1398.6 377.7 L1399.5 373.8 L1400.3 370.4 L1401.0 367.4 L1401.6 364.7 L1402.2 362.1 L1402.9 359.6 L1403.5 357.0 L1404.1 354.3 L1404.7 351.6 L1405.3 349.0 L1405.9 346.6 L1406.4 344.3 L1407.0 342.4 L1407.5 340.7 L1408.0 339.5 L1408.5 338.7 L1408.9 338.3 L1409.4 338.3 L1409.8 338.5 L1410.2 339.0 L1410.6 339.6 L1411.1 340.3 L1411.5 341.0 L1411.9 341.7 L1412.3 342.6 L1412.7 343.5 L1413.1 344.6 L1413.5 345.9 L1414.0 347.3 L1414.6 349.0 L1415.3 351.0" stroke-dasharray="9.92 40.26 9.92 3000" stroke-dashoffset="0.00"/>
<path d="M1415.3 351.0 L1416.1 353.3 L1417.1 356.0 L1418.2 358.9 L1419.3 362.0 L1420.5 365.2 L1421.7 368.5 L1422.9 371.8 L1424.0 375.0 L1425.1 378.0 L1426.1 380.8 L1427.2 383.6 L1428.2 386.5 L1429.3 389.6 L1430.5 393.0 L1431.8 396.9 L1433.2 401.5" stroke-dasharray="8.85 35.89 8.85 3000" stroke-dashoffset="0.00"/>
<path d="M1433.2 401.5 L1434.8 406.8 L1436.6 412.8 L1438.4 419.3 L1440.4 426.1 L1442.4 433.1 L1444.3 440.2 L1446.2 447.1 L1448.0 453.7" stroke-dasharray="8.96 36.34 8.96 3000" stroke-dashoffset="0.00"/>
<path d="M1448.0 453.7 L1449.7 460.1 L1451.3 466.4 L1452.9 472.6 L1454.5 478.9 L1456.0 485.1 L1457.6 491.4 L1459.1 497.7 L1460.7 504.1" stroke-dasharray="8.58 34.81 8.58 3000" stroke-dashoffset="0.00"/>
<path d="M1460.7 504.1 L1462.3 510.6 L1463.9 517.1 L1465.5 523.7 L1467.1 530.3 L1468.7 536.9 L1470.3 543.5 L1471.9 550.1 L1473.5 556.6" stroke-dasharray="8.92 36.2 8.92 3000" stroke-dashoffset="0.00"/>
<path d="M1473.5 556.6 L1475.1 563.1 L1476.7 569.5 L1478.2 575.9 L1479.8 582.2 L1481.4 588.6 L1483.0 594.9 L1484.6 601.3 L1486.2 607.6" stroke-dasharray="8.68 35.2 8.68 3000" stroke-dashoffset="0.00"/>
<path d="M1486.2 607.6 L1487.8 613.9 L1489.5 620.2 L1491.1 626.5 L1492.8 632.8 L1494.5 639.1 L1496.1 645.4 L1497.8 651.7 L1499.5 658.1" stroke-dasharray="8.62 34.98 8.62 3000" stroke-dashoffset="0.00"/>
<path d="M1499.5 658.1 L1501.2 664.5 L1502.9 671.0 L1504.6 677.5 L1506.3 684.0 L1508.0 690.4 L1509.7 696.9 L1511.4 703.3 L1513.2 709.7" stroke-dasharray="8.81 35.76 8.81 3000" stroke-dashoffset="0.00"/>
<path d="M1513.2 709.7 L1515.0 716.0 L1516.8 722.3 L1518.7 728.6 L1520.6 734.8 L1522.4 741.0 L1524.3 747.2 L1526.1 753.3 L1527.9 759.3" stroke-dasharray="8.54 34.65 8.54 3000" stroke-dashoffset="0.00"/>
<path d="M1527.9 759.3 L1529.6 765.2 L1531.3 771.1 L1533.0 776.8 L1534.7 782.5 L1536.3 788.3 L1538.0 794.1 L1539.7 800.0 L1541.5 806.0" stroke-dasharray="8.03 32.58 8.03 3000" stroke-dashoffset="0.00"/>
<path d="M1541.5 806.0 L1543.3 812.2 L1545.2 818.5 L1547.0 824.9 L1548.9 831.3 L1550.8 837.8 L1552.8 844.4 L1554.9 850.9 L1557.0 857.5" stroke-dasharray="8.88 36.03 8.88 3000" stroke-dashoffset="0.00"/>
<path d="M1557.0 857.5 L1559.2 864.1 L1561.5 870.8 L1563.9 877.6 L1566.4 884.3 L1568.8 891.1 L1571.3 897.8 L1573.8 904.5 L1576.2 911.0" stroke-dasharray="9.38 38.07 9.38 3000" stroke-dashoffset="0.00"/>
<path d="M1576.2 911.0 L1578.6 917.4 L1581.1 923.8 L1583.6 930.2 L1586.0 936.5 L1588.5 942.7 L1590.9 948.9 L1593.2 955.0 L1595.4 961.0" stroke-dasharray="8.84 35.88 8.84 3000" stroke-dashoffset="0.00"/>
<path d="M1595.4 961.0 L1597.5 966.9 L1599.5 972.7 L1601.3 978.4 L1603.2 984.0 L1605.0 989.7 L1606.8 995.3 L1608.7 1001.1 L1610.7 1007.0" stroke-dasharray="8 32.47 8 3000" stroke-dashoffset="0.00"/>
<path d="M1610.7 1007.0 L1612.8 1013.0 L1614.9 1019.2 L1617.0 1025.4 L1619.2 1031.6 L1621.4 1037.9 L1623.6 1044.2 L1625.8 1050.5 L1628.0 1056.7" stroke-dasharray="8.69 35.25 8.69 3000" stroke-dashoffset="0.00"/>
<path d="M1628.0 1056.7 L1630.1 1062.9 L1632.3 1069.2 L1634.4 1075.5 L1636.5 1081.7 L1638.6 1088.0 L1640.8 1094.2 L1643.0 1100.4 L1645.2 1106.5" stroke-dasharray="8.7 35.29 8.7 3000" stroke-dashoffset="0.00"/>
<path d="M1645.2 1106.5 L1647.5 1112.6 L1649.9 1118.6 L1652.3 1124.6 L1654.8 1130.6 L1657.3 1136.5 L1659.7 1142.5 L1662.1 1148.4 L1664.4 1154.4" stroke-dasharray="8.52 34.57 8.52 3000" stroke-dashoffset="0.00"/>
<path d="M1664.4 1154.4 L1666.6 1160.4 L1668.8 1166.3 L1670.9 1172.2 L1673.0 1178.1 L1675.1 1184.1 L1677.2 1190.1 L1679.4 1196.1 L1681.6 1202.3" stroke-dasharray="8.4 34.09 8.4 3000" stroke-dashoffset="0.00"/>
<path d="M1681.6 1202.3 L1683.9 1208.6 L1686.3 1215.0 L1688.7 1221.6 L1691.1 1228.1 L1693.5 1234.7 L1696.0 1241.2 L1698.4 1247.7 L1700.8 1254.0" stroke-dasharray="9.11 36.94 9.11 3000" stroke-dashoffset="0.00"/>
<path d="M1700.8 1254.0 L1703.2 1260.2 L1705.6 1266.2 L1707.9 1272.2 L1710.3 1278.1 L1712.7 1284.0 L1715.1 1290.0 L1717.5 1295.9 L1720.0 1302.0" stroke-dasharray="8.54 34.63 8.54 3000" stroke-dashoffset="0.00"/>
<path d="M1720.0 1302.0 L1722.5 1308.1 L1725.1 1314.3 L1727.7 1320.5 L1730.3 1326.7 L1732.9 1333.0 L1735.6 1339.2 L1738.3 1345.5 L1741.0 1351.7" stroke-dasharray="8.91 36.14 8.91 3000" stroke-dashoffset="0.00"/>
<path d="M1741.0 1351.7 L1743.8 1358.0 L1746.7 1364.3 L1749.6 1370.6 L1752.6 1377.0 L1755.5 1383.2 L1758.4 1389.4 L1761.3 1395.5 L1764.0 1401.5" stroke-dasharray="9.06 36.74 9.06 3000" stroke-dashoffset="0.00"/>
<path d="M1764.0 1401.5 L1766.6 1407.3 L1769.1 1412.9 L1771.5 1418.4 L1773.8 1423.8 L1776.2 1429.2 L1778.6 1434.6 L1781.1 1440.0 L1783.7 1445.6" stroke-dasharray="7.97 32.35 7.97 3000" stroke-dashoffset="0.00"/>
<path d="M1783.7 1445.6 L1786.4 1451.2 L1789.1 1456.8 L1791.9 1462.4 L1794.7 1468.0 L1797.6 1473.7 L1800.6 1479.5 L1803.6 1485.5 L1806.7 1491.6" stroke-dasharray="8.49 34.45 8.49 3000" stroke-dashoffset="0.00"/>
<path d="M1806.7 1491.6 L1809.9 1498.0 L1813.3 1504.8 L1816.8 1511.7 L1820.3 1518.7 L1823.8 1525.7 L1827.3 1532.5 L1830.6 1539.0 L1833.9 1545.0" stroke-dasharray="9.89 40.14 9.89 3000" stroke-dashoffset="0.00"/>
<path d="M1833.9 1545.0 L1837.0 1550.5 L1839.9 1555.7 L1842.8 1560.5 L1845.6 1565.2 L1848.5 1569.8 L1851.4 1574.4 L1854.4 1579.2 L1857.5 1584.2" stroke-dasharray="7.56 30.65 7.56 3000" stroke-dashoffset="0.00"/>
<path d="M1857.5 1584.2 L1860.8 1589.5 L1864.2 1595.0 L1867.7 1600.6 L1871.3 1606.2 L1874.9 1611.9 L1878.5 1617.5 L1882.1 1623.0 L1885.6 1628.4" stroke-dasharray="8.65 35.08 8.65 3000" stroke-dashoffset="0.00"/>
<path d="M1885.6 1628.4 L1889.0 1633.7 L1892.5 1638.8 L1895.8 1643.9 L1899.2 1649.0 L1902.6 1654.0 L1906.1 1659.0 L1909.6 1664.0 L1913.2 1669.0" stroke-dasharray="8.11 32.89 8.11 3000" stroke-dashoffset="0.00"/>
<path d="M1913.2 1669.0 L1917.0 1674.2 L1920.9 1679.5 L1925.0 1684.8 L1929.1 1690.2 L1933.1 1695.3 L1937.0 1700.3 L1940.8 1704.9 L1944.3 1709.1" stroke-dasharray="8.38 34 8.38 3000" stroke-dashoffset="0.00"/>
<path d="M1944.3 1709.1 L1947.6 1712.9 L1950.9 1716.3 L1954.0 1719.5 L1957.0 1722.4 L1959.8 1725.0 L1962.4 1727.5 L1964.8 1729.8 L1967.0 1732.0" stroke-dasharray="5.33 21.61 5.33 3000" stroke-dashoffset="0.00"/>
<path d="M1967.0 1732.0 L1968.9 1734.0 L1970.6 1735.8 L1972.1 1737.5 L1973.4 1738.9 L1974.5 1740.2 L1975.5 1741.3 L1976.3 1742.2 L1977.0 1743.0" stroke-dasharray="17.5 35.5" stroke-dashoffset="8.75"/>
</g>
<g fill="none" stroke="#008000" stroke-width="12.6" stroke-linecap="round" stroke-linejoin="round">
<path d="M155.9 1718.6 L157.2 1718.4 L158.8 1718.1 L160.9 1717.8 L163.1 1717.4 L165.4 1717.0 L167.7 1716.7 L170.0 1716.3 L172.0 1716.0 L173.8 1715.7 L175.3 1715.3 L176.8 1715.0 L178.3 1714.6 L179.8 1714.3 L181.6 1714.1 L183.6 1714.0 L186.0 1714.0 L188.8 1714.1 L192.1 1714.4 L195.6 1714.7 L199.2 1715.1 L203.0 1715.6 L206.8 1716.1 L210.5 1716.8 L214.0 1717.5" stroke-dasharray="34 29.5 0.01 29.5" stroke-dashoffset="4.74"/>
<path d="M214.0 1717.5 L217.4 1718.4 L220.8 1719.4 L224.2 1720.5 L227.5 1721.7 L230.8 1722.9 L234.0 1724.0 L237.1 1725.1 L240.0 1726.0 L242.8 1726.8 L245.5 1727.4 L248.0 1728.0 L250.5 1728.5 L252.9 1729.0 L255.3 1729.5 L257.6 1730.0 L260.0 1730.5 L262.3 1731.1 L264.5 1731.7 L266.6 1732.4 L268.7 1733.0 L270.8 1733.6 L273.1 1734.1 L275.4 1734.6 L278.0 1735.0 L280.8 1735.3 L283.7 1735.4 L286.8 1735.5 L290.0 1735.6 L293.2 1735.6 L296.5 1735.6 L299.6 1735.6 L302.7 1735.6" stroke-dasharray="0.01 28.92 33.33 28.92 0.01 3000" stroke-dashoffset="0.00"/>
<path d="M302.7 1735.6 L305.7 1735.6 L308.6 1735.7 L311.5 1735.7 L314.4 1735.7 L317.3 1735.7 L320.2 1735.7 L323.1 1735.7 L326.0 1735.7 L329.0 1735.7 L332.0 1735.6 L335.0 1735.6 L338.1 1735.5 L341.1 1735.4 L344.1 1735.4 L347.1 1735.3 L350.0 1735.2 L352.9 1735.1 L355.7 1735.1 L358.5 1735.0 L361.3 1734.9 L364.0 1734.8 L366.7 1734.7 L369.4 1734.6 L372.0 1734.5 L374.5 1734.4 L376.9 1734.3 L379.3 1734.2 L381.6 1734.0 L383.9 1733.9 L386.3 1733.7 L388.7 1733.4 L391.3 1733.0" stroke-dasharray="0.01 28.13 32.42 28.13 0.01 3000" stroke-dashoffset="0.00"/>
<path d="M391.3 1733.0 L394.0 1732.5 L396.7 1731.9 L399.6 1731.1 L402.4 1730.4 L405.3 1729.6 L408.2 1728.9 L411.1 1728.3 L414.0 1727.8 L416.9 1727.5 L419.7 1727.3 L422.6 1727.1 L425.5 1727.1 L428.4 1727.0 L431.2 1727.0 L434.1 1727.0 L437.0 1727.0 L439.9 1727.0 L442.9 1726.9 L445.9 1726.9 L448.9 1727.0 L451.9 1727.0 L454.7 1727.0 L457.4 1727.0 L460.0 1727.0 L462.3 1727.0 L464.4 1726.9 L466.3 1726.7 L468.2 1726.6 L470.0 1726.6 L471.9 1726.6 L474.0 1726.7 L476.3 1727.0" stroke-dasharray="0.01 27.17 31.32 27.17 0.01 3000" stroke-dashoffset="0.00"/>
<path d="M476.3 1727.0 L478.8 1727.5 L481.6 1728.1 L484.4 1728.9 L487.4 1729.8 L490.3 1730.7 L493.3 1731.6 L496.2 1732.4 L499.0 1733.0 L501.7 1733.5 L504.3 1734.0 L507.0 1734.3 L509.5 1734.7 L512.1 1735.0 L514.7 1735.3 L517.3 1735.6 L520.0 1736.0 L522.6 1736.4 L525.1 1736.8 L527.5 1737.1 L529.9 1737.5 L532.5 1737.9 L535.4 1738.2 L538.5 1738.6 L542.0 1739.0 L545.8 1739.4 L549.9 1739.8 L554.1 1740.3 L558.6 1740.7 L563.4 1741.1 L568.6 1741.5 L574.1 1741.8 L580.0 1742.0 L586.6 1742.2 L594.0 1742.3 L601.9 1742.4 L610.1 1742.4 L618.2 1742.4 L626.1 1742.3 L633.5 1742.2 L640.0 1742.0 L645.7 1741.7 L650.9 1741.3 L655.6 1740.8 L660.1 1740.3 L664.3 1739.8 L668.4 1739.3 L672.6 1738.8 L677.0 1738.5 L681.6 1738.3 L686.2 1738.2 L690.8 1738.2 L695.4 1738.2 L699.9 1738.2 L704.2 1738.1 L708.2 1737.9 L712.0 1737.5 L715.4 1736.9 L718.6 1736.2 L721.5 1735.3 L724.2 1734.3 L726.8 1733.4 L729.4 1732.5 L732.1 1731.7 L734.8 1731.0" stroke-dasharray="0.01 27.6 31.81 27.6 0.01 27.6 31.81 27.6 0.01 27.6 31.81 27.6 0.01 3000" stroke-dashoffset="0.00"/>
<path d="M734.8 1731.0 L737.5 1730.5 L740.1 1730.0 L742.7 1729.7 L745.3 1729.3 L747.9 1729.1 L750.7 1728.9 L753.7 1728.7 L757.0 1728.5 L760.6 1728.4 L764.4 1728.3 L768.5 1728.3 L772.6 1728.3 L776.9 1728.4 L781.3 1728.4 L785.7 1728.5 L790.0 1728.5 L794.4 1728.5 L799.1 1728.6 L803.8 1728.6 L808.6 1728.6 L813.3 1728.7 L817.8 1728.8 L822.1 1728.9 L826.0 1729.0 L829.5 1729.2 L832.7 1729.4 L835.7 1729.7 L838.5 1730.0 L841.2 1730.3 L843.8 1730.6 L846.5 1730.8 L849.3 1731.0" stroke-dasharray="0.01 29.5 55.77 29.5 0.01 3000" stroke-dashoffset="0.00"/>
<path d="M849.3 1731.0 L852.2 1731.1 L855.0 1731.2 L857.8 1731.2 L860.7 1731.2 L863.5 1731.1 L866.3 1731.1 L869.2 1731.0 L872.0 1731.0 L874.9 1731.0 L877.8 1730.9 L880.6 1730.8 L883.5 1730.8 L886.4 1730.7 L889.3 1730.6 L892.2 1730.6 L895.0 1730.5 L897.8 1730.5 L900.5 1730.4 L903.3 1730.4 L906.0 1730.4 L908.7 1730.4 L911.4 1730.3 L914.2 1730.2 L917.0 1730.0 L919.8 1729.8 L922.7 1729.5 L925.6 1729.1 L928.5 1728.8 L931.5 1728.4 L934.4 1728.0 L937.3 1727.6 L940.2 1727.2" stroke-dasharray="0.01 28.89 33.3 28.89 0.01 3000" stroke-dashoffset="0.00"/>
<path d="M940.2 1727.2 L943.1 1726.8 L945.9 1726.4 L948.7 1726.0 L951.6 1725.6 L954.4 1725.2 L957.2 1724.8 L960.1 1724.4 L963.0 1724.0 L965.9 1723.7 L968.9 1723.3 L972.0 1723.0 L975.0 1722.7 L978.0 1722.4 L981.0 1722.1 L984.0 1721.8 L987.0 1721.5 L989.9 1721.2 L992.9 1720.8 L995.8 1720.5 L998.7 1720.2 L1001.6 1719.8 L1004.4 1719.5 L1007.2 1719.2 L1010.0 1719.0 L1012.7 1718.8 L1015.3 1718.6 L1017.8 1718.5 L1020.4 1718.4 L1022.9 1718.3 L1025.5 1718.2 L1028.3 1718.1 L1031.2 1718.0" stroke-dasharray="0.01 29.03 33.46 29.03 0.01 3000" stroke-dashoffset="0.00"/>
<path d="M1031.2 1718.0 L1034.2 1717.9 L1037.2 1717.7 L1040.3 1717.6 L1043.4 1717.4 L1046.7 1717.3 L1050.2 1717.1 L1054.0 1717.1 L1058.0 1717.0 L1062.5 1717.0 L1067.4 1717.0 L1072.7 1717.0 L1078.1 1717.1 L1083.5 1717.2 L1088.8 1717.3 L1093.6 1717.4 L1098.0 1717.5 L1101.8 1717.7 L1105.2 1717.9 L1108.4 1718.1 L1111.3 1718.4 L1114.1 1718.6 L1116.9 1718.8 L1119.7 1718.9 L1122.8 1719.0" stroke-dasharray="0.01 29.08 33.52 29.08 0.01 3000" stroke-dashoffset="0.00"/>
<path d="M1122.8 1719.0 L1125.9 1719.0 L1128.9 1719.0 L1131.9 1718.9 L1134.9 1718.8 L1138.0 1718.6 L1141.4 1718.4 L1145.0 1718.1 L1149.0 1717.8 L1153.5 1717.4 L1158.6 1716.8 L1164.0 1716.1 L1169.5 1715.4 L1175.1 1714.7 L1180.5 1714.1 L1185.5 1713.5 L1190.0 1713.0 L1193.9 1712.6 L1197.5 1712.3 L1200.7 1712.0 L1203.7 1711.8 L1206.6 1711.6 L1209.5 1711.4 L1212.4 1711.3 L1215.5 1711.2" stroke-dasharray="0.01 29.53 34.03 29.53 0.01 3000" stroke-dashoffset="0.00"/>
<path d="M1215.5 1711.2 L1218.7 1711.2 L1221.8 1711.2 L1225.0 1711.2 L1228.2 1711.3 L1231.3 1711.4 L1234.5 1711.6 L1237.7 1711.8 L1241.0 1712.0 L1244.4 1712.3 L1248.0 1712.6 L1251.6 1713.0 L1255.3 1713.4 L1258.8 1713.9 L1262.2 1714.2 L1265.3 1714.6 L1268.0 1714.8 L1270.3 1715.0 L1272.3 1715.2 L1274.1 1715.3 L1275.6 1715.4 L1277.0 1715.4 L1278.3 1715.4 L1279.6 1715.2 L1281.0 1715.0 L1282.4 1714.7 L1283.7 1714.2 L1284.9 1713.7 L1286.1 1713.1 L1287.3 1712.5 L1288.4 1711.7 L1289.4 1710.9 L1290.5 1710.0 L1291.5 1709.1 L1292.4 1708.2 L1293.2 1707.4 L1294.0 1706.4 L1294.8 1705.2 L1295.7 1703.8 L1296.6 1702.2 L1297.7 1700.2" stroke-dasharray="0.01 28.18 32.48 28.18 0.01 3000" stroke-dashoffset="0.00"/>
<path d="M1297.7 1700.2 L1298.9 1697.9 L1300.2 1695.2 L1301.6 1692.4 L1303.0 1689.3 L1304.5 1686.0 L1306.0 1682.5 L1307.5 1678.8 L1309.0 1675.0 L1310.6 1670.9 L1312.3 1666.4 L1314.0 1661.7 L1315.8 1656.9 L1317.5 1652.0 L1319.1 1647.2 L1320.6 1642.6 L1321.8 1638.4 L1322.8 1634.5 L1323.6 1630.8 L1324.2 1627.3 L1324.7 1623.9 L1325.2 1620.6 L1325.6 1617.3 L1326.1 1614.0 L1326.6 1610.6" stroke-dasharray="0.01 30.02 34.6 30.02 0.01 3000" stroke-dashoffset="0.00"/>
<path d="M1326.6 1610.6 L1327.2 1607.2 L1327.7 1603.9 L1328.2 1600.6 L1328.7 1597.4 L1329.3 1594.0 L1329.8 1590.5 L1330.5 1586.9 L1331.2 1583.0 L1332.0 1578.8 L1333.0 1574.2 L1334.0 1569.5 L1335.1 1564.6 L1336.1 1559.7 L1337.1 1555.0 L1338.0 1550.4 L1338.8 1546.2 L1339.4 1542.3 L1340.0 1538.6 L1340.5 1535.1 L1340.9 1531.7 L1341.3 1528.4 L1341.6 1525.1 L1342.0 1521.8 L1342.5 1518.4" stroke-dasharray="0.01 29.69 34.22 29.69 0.01 3000" stroke-dashoffset="0.00"/>
<path d="M1342.5 1518.4 L1343.0 1515.0 L1343.4 1511.7 L1343.9 1508.5 L1344.4 1505.3 L1344.9 1502.0 L1345.4 1498.5 L1345.9 1494.9 L1346.5 1491.0 L1347.1 1486.8 L1347.8 1482.2 L1348.5 1477.4 L1349.2 1472.5 L1350.0 1467.6 L1350.7 1462.8 L1351.4 1458.2 L1352.0 1454.0 L1352.6 1450.2 L1353.2 1446.6 L1353.8 1443.2 L1354.4 1440.0 L1355.0 1436.8 L1355.5 1433.6 L1356.0 1430.4 L1356.4 1427.0" stroke-dasharray="0.01 29.33 33.8 29.33 0.01 3000" stroke-dashoffset="0.00"/>
<path d="M1356.4 1427.0 L1356.8 1423.6 L1357.0 1420.2 L1357.3 1416.9 L1357.5 1413.5 L1357.7 1410.1 L1357.9 1406.5 L1358.3 1402.7 L1358.7 1398.8 L1359.3 1394.6 L1359.9 1390.0 L1360.7 1385.2 L1361.5 1380.4 L1362.2 1375.5 L1363.0 1370.8 L1363.7 1366.2 L1364.3 1362.0 L1364.8 1358.1 L1365.2 1354.4 L1365.6 1350.8 L1366.0 1347.4 L1366.3 1344.1 L1366.6 1340.8 L1367.0 1337.4 L1367.3 1334.0" stroke-dasharray="0.01 29.72 34.25 29.72 0.01 3000" stroke-dashoffset="0.00"/>
<path d="M1367.3 1334.0 L1367.6 1330.6 L1367.9 1327.4 L1368.2 1324.2 L1368.5 1320.9 L1368.8 1317.6 L1369.2 1314.2 L1369.6 1310.5 L1370.0 1306.6 L1370.5 1302.3 L1371.1 1297.5 L1371.7 1292.5 L1372.4 1287.4 L1373.1 1282.3 L1373.7 1277.4 L1374.3 1272.7 L1374.8 1268.4 L1375.2 1264.5 L1375.6 1260.9 L1375.9 1257.6 L1376.2 1254.4 L1376.5 1251.3 L1376.8 1248.3 L1377.1 1245.2 L1377.5 1242.0" stroke-dasharray="0.01 29.36 33.84 29.36 0.01 3000" stroke-dashoffset="0.00"/>
<path d="M1377.5 1242.0 L1377.9 1238.9 L1378.3 1235.9 L1378.7 1233.0 L1379.1 1230.1 L1379.5 1227.1 L1380.0 1223.9 L1380.5 1220.4 L1381.0 1216.5 L1381.6 1212.1 L1382.4 1207.3 L1383.1 1202.1 L1383.9 1196.8 L1384.7 1191.4 L1385.5 1186.2 L1386.1 1181.3 L1386.7 1176.8 L1387.2 1172.8 L1387.5 1169.1 L1387.8 1165.6 L1388.1 1162.3 L1388.3 1159.1 L1388.5 1156.0 L1388.8 1152.8 L1389.0 1149.5" stroke-dasharray="0.01 29.58 34.09 29.58 0.01 3000" stroke-dashoffset="0.00"/>
<path d="M1389.0 1149.5 L1389.2 1146.2 L1389.4 1143.1 L1389.5 1140.1 L1389.7 1137.0 L1389.9 1133.9 L1390.1 1130.5 L1390.4 1126.9 L1390.8 1123.0 L1391.3 1118.6 L1392.0 1113.7 L1392.8 1108.4 L1393.6 1103.1 L1394.4 1097.7 L1395.1 1092.5 L1395.8 1087.6 L1396.4 1083.2 L1396.8 1079.3 L1397.2 1075.8 L1397.5 1072.6 L1397.7 1069.5 L1398.0 1066.6 L1398.2 1063.7 L1398.5 1060.7 L1398.8 1057.5" stroke-dasharray="0.01 29.36 33.84 29.36 0.01 3000" stroke-dashoffset="0.00"/>
<path d="M1398.8 1057.5 L1399.1 1054.6 L1399.4 1052.1 L1399.7 1049.8 L1400.0 1047.3 L1400.4 1044.5 L1400.9 1041.0 L1401.5 1036.5 L1402.3 1030.8 L1403.3 1023.3 L1404.6 1014.0 L1406.1 1003.6 L1407.6 992.5 L1409.1 981.5 L1410.5 971.1 L1411.8 961.8 L1412.8 954.2 L1413.5 948.4 L1414.1 943.9 L1414.5 940.3 L1414.7 937.4 L1415.0 934.8 L1415.2 932.4 L1415.5 929.8 L1415.8 926.8" stroke-dasharray="0.01 29.5 72.81 29.5 0.01 3000" stroke-dashoffset="0.00"/>
<path d="M1415.8 926.8 L1416.2 923.5 L1416.6 920.4 L1417.0 917.4 L1417.4 914.3 L1417.8 911.2 L1418.2 907.8 L1418.7 904.2 L1419.3 900.3 L1420.0 895.9 L1420.7 891.0 L1421.6 885.8 L1422.4 880.4 L1423.3 875.1 L1424.1 869.9 L1424.9 865.1 L1425.5 860.7 L1426.0 856.8 L1426.4 853.4 L1426.8 850.2 L1427.1 847.2 L1427.3 844.3 L1427.6 841.4 L1427.9 838.3 L1428.3 835.1" stroke-dasharray="0.01 29.36 33.84 29.36 0.01 3000" stroke-dashoffset="0.00"/>
<path d="M1428.3 835.1 L1428.7 831.8 L1429.1 828.4 L1429.5 825.1 L1430.0 821.7 L1430.4 818.3 L1430.9 814.6 L1431.4 810.8 L1432.0 806.8 L1432.6 802.4 L1433.3 797.7 L1434.1 792.7 L1434.9 787.5 L1435.7 782.4 L1436.4 777.5 L1437.1 772.8 L1437.7 768.5 L1438.2 764.6 L1438.7 761.0 L1439.1 757.6 L1439.4 754.3 L1439.8 751.2 L1440.1 748.2 L1440.5 745.1 L1441.0 742.0" stroke-dasharray="0.01 29.81 34.35 29.81 0.01 3000" stroke-dashoffset="0.00"/>
<path d="M1441.0 742.0 L1441.5 739.0 L1442.1 736.3 L1442.6 733.6 L1443.2 731.0 L1443.8 728.3 L1444.5 725.3 L1445.1 722.0 L1445.7 718.2 L1446.3 713.8 L1447.0 708.8 L1447.6 703.4 L1448.3 697.8 L1448.9 692.2 L1449.6 686.7 L1450.2 681.6 L1450.8 677.1 L1451.4 673.1 L1452.0 669.5 L1452.5 666.2 L1453.1 663.1 L1453.6 660.2 L1454.1 657.2 L1454.7 654.2 L1455.2 651.0" stroke-dasharray="0.01 29.23 33.69 29.23 0.01 3000" stroke-dashoffset="0.00"/>
<path d="M1455.2 651.0 L1455.7 647.8 L1456.1 644.8 L1456.6 641.8 L1457.0 638.7 L1457.5 635.6 L1458.0 632.2 L1458.6 628.6 L1459.3 624.6 L1460.2 620.1 L1461.2 615.0 L1462.3 609.5 L1463.4 603.9 L1464.6 598.3 L1465.7 593.0 L1466.8 587.9 L1467.8 583.5 L1468.7 579.7 L1469.5 576.3 L1470.3 573.2 L1471.0 570.3 L1471.8 567.6 L1472.5 564.9 L1473.2 562.0 L1474.0 559.0" stroke-dasharray="0.01 29.81 34.35 29.81 0.01 3000" stroke-dashoffset="0.00"/>
<path d="M1474.0 559.0 L1474.8 555.7 L1475.5 552.1 L1476.2 548.5 L1477.0 544.9 L1477.8 541.4 L1478.6 538.0 L1479.5 535.1 L1480.5 532.5 L1481.6 530.4 L1482.9 528.7 L1484.2 527.3 L1485.6 526.2 L1487.0 525.1 L1488.4 524.1 L1489.7 523.1 L1491.0 522.0 L1492.3 520.7 L1493.5 519.4 L1494.8 518.1 L1496.1 516.8 L1497.3 515.6 L1498.4 514.6 L1499.5 513.7 L1500.5 513.0 L1501.4 512.5 L1502.2 512.2 L1502.9 512.0 L1503.5 511.9 L1504.1 512.0 L1504.8 512.2 L1505.4 512.6 L1506.0 513.0 L1506.6 513.6 L1507.3 514.3 L1507.9 515.1 L1508.5 516.1 L1509.1 517.1 L1509.7 518.3 L1510.4 519.6 L1511.0 521.0 L1511.7 522.5 L1512.3 524.0 L1513.0 525.6 L1513.7 527.4 L1514.3 529.2 L1515.0 531.3 L1515.8 533.5 L1516.5 536.0" stroke-dasharray="0.01 27.59 31.79 27.59 0.01 3000" stroke-dashoffset="0.00"/>
<path d="M1516.5 536.0 L1517.2 538.7 L1518.0 541.5 L1518.7 544.4 L1519.5 547.6 L1520.3 551.0 L1521.1 554.5 L1522.0 558.3 L1523.0 562.3 L1524.1 566.7 L1525.4 571.6 L1526.7 576.8 L1528.1 582.2 L1529.5 587.6 L1530.8 592.8 L1532.0 597.6 L1533.0 602.0 L1533.8 605.9 L1534.5 609.3 L1535.0 612.5 L1535.5 615.5 L1535.9 618.5 L1536.3 621.4 L1536.7 624.3 L1537.2 627.5" stroke-dasharray="0.01 29.78 34.32 29.78 0.01 3000" stroke-dashoffset="0.00"/>
<path d="M1537.2 627.5 L1537.7 630.7 L1538.2 633.9 L1538.7 637.0 L1539.2 640.1 L1539.7 643.4 L1540.2 646.8 L1540.8 650.5 L1541.5 654.4 L1542.3 658.7 L1543.2 663.4 L1544.1 668.4 L1545.1 673.6 L1546.1 678.7 L1547.0 683.7 L1547.9 688.4 L1548.6 692.7 L1549.2 696.6 L1549.7 700.2 L1550.1 703.5 L1550.4 706.7 L1550.8 709.8 L1551.1 712.9 L1551.5 716.0 L1552.0 719.3" stroke-dasharray="0.01 29.5 34.01 29.5 0.01 3000" stroke-dashoffset="0.00"/>
<path d="M1552.0 719.3 L1552.5 722.6 L1553.1 725.8 L1553.7 728.9 L1554.3 732.0 L1555.0 735.3 L1555.7 738.8 L1556.3 742.5 L1557.0 746.6 L1557.7 751.2 L1558.4 756.3 L1559.2 761.8 L1560.0 767.4 L1560.7 772.9 L1561.5 778.3 L1562.2 783.3 L1562.8 787.7 L1563.4 791.3 L1563.9 794.3 L1564.3 796.8 L1564.7 799.1 L1565.1 801.5 L1565.6 804.1 L1566.2 807.4 L1566.8 811.5" stroke-dasharray="0.01 29.63 34.15 29.63 0.01 3000" stroke-dashoffset="0.00"/>
<path d="M1566.8 811.5 L1567.6 816.5 L1568.4 822.2 L1569.3 828.5 L1570.3 835.1 L1571.2 841.8 L1572.2 848.5 L1573.1 855.0 L1574.0 861.0 L1574.8 866.7 L1575.5 872.1 L1576.3 877.4 L1577.0 882.6 L1577.7 887.8 L1578.4 893.1 L1579.2 898.4 L1580.0 903.8" stroke-dasharray="0.01 29.58 34.09 29.58 0.01 3000" stroke-dashoffset="0.00"/>
<path d="M1580.0 903.8 L1580.9 909.4 L1581.9 915.0 L1582.8 920.7 L1583.9 926.4 L1584.9 932.1 L1585.9 937.9 L1586.8 943.7 L1587.7 949.4 L1588.5 955.1 L1589.2 960.9 L1589.9 966.6 L1590.6 972.4 L1591.3 978.2 L1592.0 983.9 L1592.7 989.7 L1593.5 995.4" stroke-dasharray="0.01 29.38 33.86 29.38 0.01 3000" stroke-dashoffset="0.00"/>
<path d="M1593.5 995.4 L1594.4 1001.1 L1595.3 1006.8 L1596.2 1012.5 L1597.2 1018.2 L1598.1 1023.9 L1599.1 1029.6 L1600.1 1035.3 L1601.0 1041.0 L1601.9 1046.7 L1602.8 1052.4 L1603.7 1058.1 L1604.6 1063.7 L1605.4 1069.4 L1606.3 1075.1 L1607.1 1080.9 L1608.0 1086.6" stroke-dasharray="0.01 29.29 33.76 29.29 0.01 3000" stroke-dashoffset="0.00"/>
<path d="M1608.0 1086.6 L1608.8 1092.4 L1609.7 1098.1 L1610.5 1103.9 L1611.3 1109.8 L1612.1 1115.6 L1612.9 1121.4 L1613.7 1127.2 L1614.6 1133.0 L1615.5 1138.8 L1616.4 1144.6 L1617.4 1150.4 L1618.3 1156.2 L1619.3 1162.0 L1620.3 1167.8 L1621.2 1173.5 L1622.2 1179.3" stroke-dasharray="0.01 29.75 34.29 29.75 0.01 3000" stroke-dashoffset="0.00"/>
<path d="M1622.2 1179.3 L1623.2 1185.1 L1624.1 1190.8 L1625.1 1196.5 L1626.1 1202.3 L1627.1 1208.0 L1628.1 1213.7 L1629.0 1219.4 L1630.0 1225.0 L1630.9 1230.6 L1631.9 1236.2 L1632.8 1241.7 L1633.7 1247.3 L1634.7 1252.8 L1635.6 1258.3 L1636.5 1263.8 L1637.5 1269.3" stroke-dasharray="0.01 28.96 33.38 28.96 0.01 3000" stroke-dashoffset="0.00"/>
<path d="M1637.5 1269.3 L1638.5 1274.7 L1639.4 1280.1 L1640.4 1285.4 L1641.3 1290.8 L1642.3 1296.2 L1643.3 1301.6 L1644.4 1307.2 L1645.5 1313.0 L1646.7 1319.0 L1647.9 1325.2 L1649.2 1331.5 L1650.5 1338.0 L1651.8 1344.4 L1653.1 1350.8 L1654.4 1357.1 L1655.6 1363.2" stroke-dasharray="0.01 30.34 34.96 30.34 0.01 3000" stroke-dashoffset="0.00"/>
<path d="M1655.6 1363.2 L1656.7 1369.1 L1657.8 1375.0 L1658.9 1380.8 L1659.9 1386.5 L1660.9 1392.1 L1661.9 1397.8 L1663.0 1403.4 L1664.0 1409.0 L1665.1 1414.7 L1666.2 1420.5 L1667.3 1426.4 L1668.4 1432.2 L1669.5 1437.9 L1670.5 1443.4 L1671.6 1448.5 L1672.6 1453.3" stroke-dasharray="0.01 29.09 33.52 29.09 0.01 3000" stroke-dashoffset="0.00"/>
<path d="M1672.6 1453.3 L1673.6 1457.6 L1674.5 1461.4 L1675.4 1465.0 L1676.3 1468.3 L1677.2 1471.5 L1678.1 1474.8 L1679.1 1478.3 L1680.0 1482.0 L1681.0 1486.0 L1682.0 1490.3 L1683.0 1494.7 L1684.0 1499.1 L1685.0 1503.5 L1686.0 1507.8 L1687.0 1512.0 L1688.0 1516.0 L1689.0 1519.7 L1689.9 1523.2 L1690.8 1526.6 L1691.7 1529.9 L1692.6 1533.1 L1693.6 1536.4 L1694.6 1539.8 L1695.6 1543.3" stroke-dasharray="0.01 29.47 33.97 29.47 0.01 3000" stroke-dashoffset="0.00"/>
<path d="M1695.6 1543.3 L1696.7 1547.0 L1697.8 1550.7 L1699.0 1554.5 L1700.2 1558.4 L1701.4 1562.2 L1702.6 1566.2 L1703.8 1570.1 L1705.0 1574.0 L1706.2 1578.0 L1707.4 1582.0 L1708.5 1586.1 L1709.7 1590.2 L1710.9 1594.3 L1712.1 1598.3 L1713.3 1602.2 L1714.5 1606.0 L1715.7 1609.6 L1717.0 1613.2 L1718.2 1616.6 L1719.4 1620.0 L1720.7 1623.3 L1722.0 1626.5 L1723.3 1629.8 L1724.6 1633.0" stroke-dasharray="0.01 29.92 34.48 29.92 0.01 3000" stroke-dashoffset="0.00"/>
<path d="M1724.6 1633.0 L1725.9 1636.2 L1727.2 1639.2 L1728.5 1642.2 L1729.9 1645.2 L1731.3 1648.2 L1732.7 1651.2 L1734.2 1654.3 L1735.8 1657.5 L1737.5 1660.8 L1739.3 1664.3 L1741.1 1667.9 L1743.0 1671.5 L1744.9 1675.1 L1746.9 1678.6 L1748.9 1681.9 L1751.0 1685.0 L1753.1 1687.9 L1755.1 1690.6 L1757.2 1693.3 L1759.3 1695.8 L1761.5 1698.2 L1763.8 1700.5 L1766.3 1702.8 L1769.0 1705.0" stroke-dasharray="0.01 27.09 31.22 27.09 0.01 3000" stroke-dashoffset="0.00"/>
<path d="M1769.0 1705.0 L1771.9 1707.2 L1774.9 1709.3 L1778.1 1711.3 L1781.4 1713.3 L1784.8 1715.1 L1788.3 1716.8 L1791.9 1718.4 L1795.6 1719.8 L1799.4 1721.0 L1803.4 1722.0 L1807.5 1722.9 L1811.7 1723.6 L1815.9 1724.2 L1820.0 1724.8 L1824.1 1725.4 L1828.0 1726.0 L1831.8 1726.6 L1835.7 1727.1 L1839.4 1727.6 L1843.2 1728.0 L1846.8 1728.5 L1850.3 1728.9 L1853.6 1729.4 L1856.8 1730.0" stroke-dasharray="0.01 29.4 33.88 29.4 0.01 3000" stroke-dashoffset="0.00"/>
<path d="M1856.8 1730.0 L1859.6 1730.6 L1862.1 1731.4 L1864.4 1732.1 L1866.5 1732.9 L1868.7 1733.6 L1871.1 1734.3 L1873.8 1735.0 L1877.0 1735.5 L1880.6 1735.9 L1884.4 1736.2 L1888.5 1736.4 L1892.8 1736.6 L1897.3 1736.7 L1902.0 1736.9 L1906.9 1737.2 L1912.0 1737.5 L1917.2 1738.0 L1922.6 1738.6 L1928.1 1739.2 L1933.8 1739.9 L1939.8 1740.6 L1946.1 1741.2 L1952.9 1741.7 L1960.0 1742.0 L1968.0 1742.2 L1977.0 1742.2 L1986.7 1742.1 L1996.5 1742.0 L2006.2 1741.8 L2015.2 1741.6 L2023.3 1741.3 L2030.0 1741.0 L2035.2 1740.7 L2039.1 1740.3 L2042.1 1739.9 L2044.5 1739.5 L2046.6 1739.0 L2048.7 1738.5 L2051.1 1738.0 L2054.0 1737.5 L2057.4 1736.9 L2061.0 1736.3 L2064.7 1735.6 L2068.4 1734.9 L2072.2 1734.2 L2076.0 1733.6 L2079.8 1732.9 L2083.5 1732.4" stroke-dasharray="0.01 29.5 34 29.5 0.01 29.5 76.53 29.5 0.01 3000" stroke-dashoffset="0.00"/>
<path d="M2083.5 1732.4 L2087.2 1731.9 L2090.8 1731.5 L2094.4 1731.1 L2098.0 1730.7 L2101.6 1730.4 L2105.3 1730.0 L2109.1 1729.8 L2113.0 1729.5 L2117.1 1729.3 L2121.5 1729.1 L2126.0 1728.9 L2130.5 1728.8 L2135.0 1728.7 L2139.3 1728.6 L2143.3 1728.5 L2147.0 1728.5 L2150.2 1728.5 L2153.1 1728.5 L2155.7 1728.5 L2158.1 1728.5 L2160.5 1728.6 L2162.8 1728.7 L2165.3 1729.0 L2168.0 1729.3" stroke-dasharray="0.01 26.87 30.97 26.87 0.01 3000" stroke-dashoffset="0.00"/>
<path d="M2168.0 1729.3 L2171.0 1729.8 L2174.2 1730.4 L2177.5 1731.2 L2180.8 1732.0 L2184.0 1732.8 L2187.1 1733.6 L2189.7 1734.4 L2192.0 1735.0 L2193.8 1735.5 L2195.3 1736.0 L2196.5 1736.5 L2197.5 1736.9 L2198.3 1737.2 L2198.9 1737.5 L2199.5 1737.8 L2200.0 1738.0" stroke-dasharray="0.01 29.5 34 29.5" stroke-dashoffset="0.00"/>
</g>
</g>
<g stroke="#000" fill="none" stroke-dasharray="42 39.75">
<path d="M960.1 59.3 L506.7 1733.5" stroke-width="8.5"/>
<path d="M1362.3 732 L1813.8 1733.5" stroke-width="7"/>
</g>
<g stroke="#000" fill="none" stroke-width="9.3" stroke-dasharray="42 39.75">
<path d="M1097.2 41.4 V1717.5"/>
<path d="M508 1138.3 V1733"/>
<path d="M1809.5 1135 V1733"/>
</g>
<path d="M99.3 1607.6 V1432" stroke="#000" stroke-width="9.2" fill="none"/>
<path d="M99.4 1396.2 L109.2 1435.8 L99.4 1430 L89.6 1435.8 Z" fill="#000" stroke="#000" stroke-width="9" stroke-linejoin="round"/>
<g font-family="'Liberation Serif', serif" fill="#000">
<text transform="translate(89.6 1878.6) scale(1 1.019)" font-size="113.3" text-anchor="middle">100</text>
<text transform="translate(674.9 1878.6) scale(1 1.019)" font-size="113.3" text-anchor="middle">150</text>
<text transform="translate(1259.1 1878.6) scale(1 1.019)" font-size="113.3" text-anchor="middle">200</text>
<text transform="translate(1843.5 1878.6) scale(1 1.019)" font-size="113.3" text-anchor="middle">250</text>
<text x="2027.4" y="1879" font-size="116" font-style="italic">T</text>
<text x="2077.8" y="1878.6" font-size="111">, °C</text>
<text x="124.8" y="1544.2" font-size="113">exo</text>
<text x="896.9" y="647.2" font-size="116" font-style="italic">T</text>
<text x="957.2" y="677.0" font-size="76">max</text>
<text x="327.1" y="1269.8" font-size="116" font-style="italic">T</text>
<text x="387.4" y="1300.4" font-size="76">ons</text>
<text x="1826.1" y="1310.6" font-size="116" font-style="italic">T</text>
<text x="1886.4" y="1341.2" font-size="76">end</text>
<text x="1764.8" y="441.9" font-size="87" font-style="italic">w</text>
<text x="1823.8" y="465.5" font-size="61">naph</text>
<text x="1940.4" y="570.4" font-size="89.5">0%</text>
<text x="1940.4" y="678.9" font-size="89.5">20%</text>
<text x="1940.4" y="787.3" font-size="89.5">40%</text>
<text x="1940.4" y="895.8" font-size="89.5">60%</text>
</g>
<g fill="none" stroke-width="12.5" stroke-linecap="round">
<path d="M1721.5 541.1 H1919.0" stroke="#000"/>
<path d="M1721.5 649.6 H1919.0" stroke="#f73e40"/>
<path d="M1721.5 758.0 H1919.0" stroke="#0000ff" stroke-dasharray="17.5 35.5"/>
<path d="M1721.5 866.5 H1919.0" stroke="#008000" stroke-dasharray="34 29.5 0.01 29.5"/>
</g>
</svg>
</body></html>
